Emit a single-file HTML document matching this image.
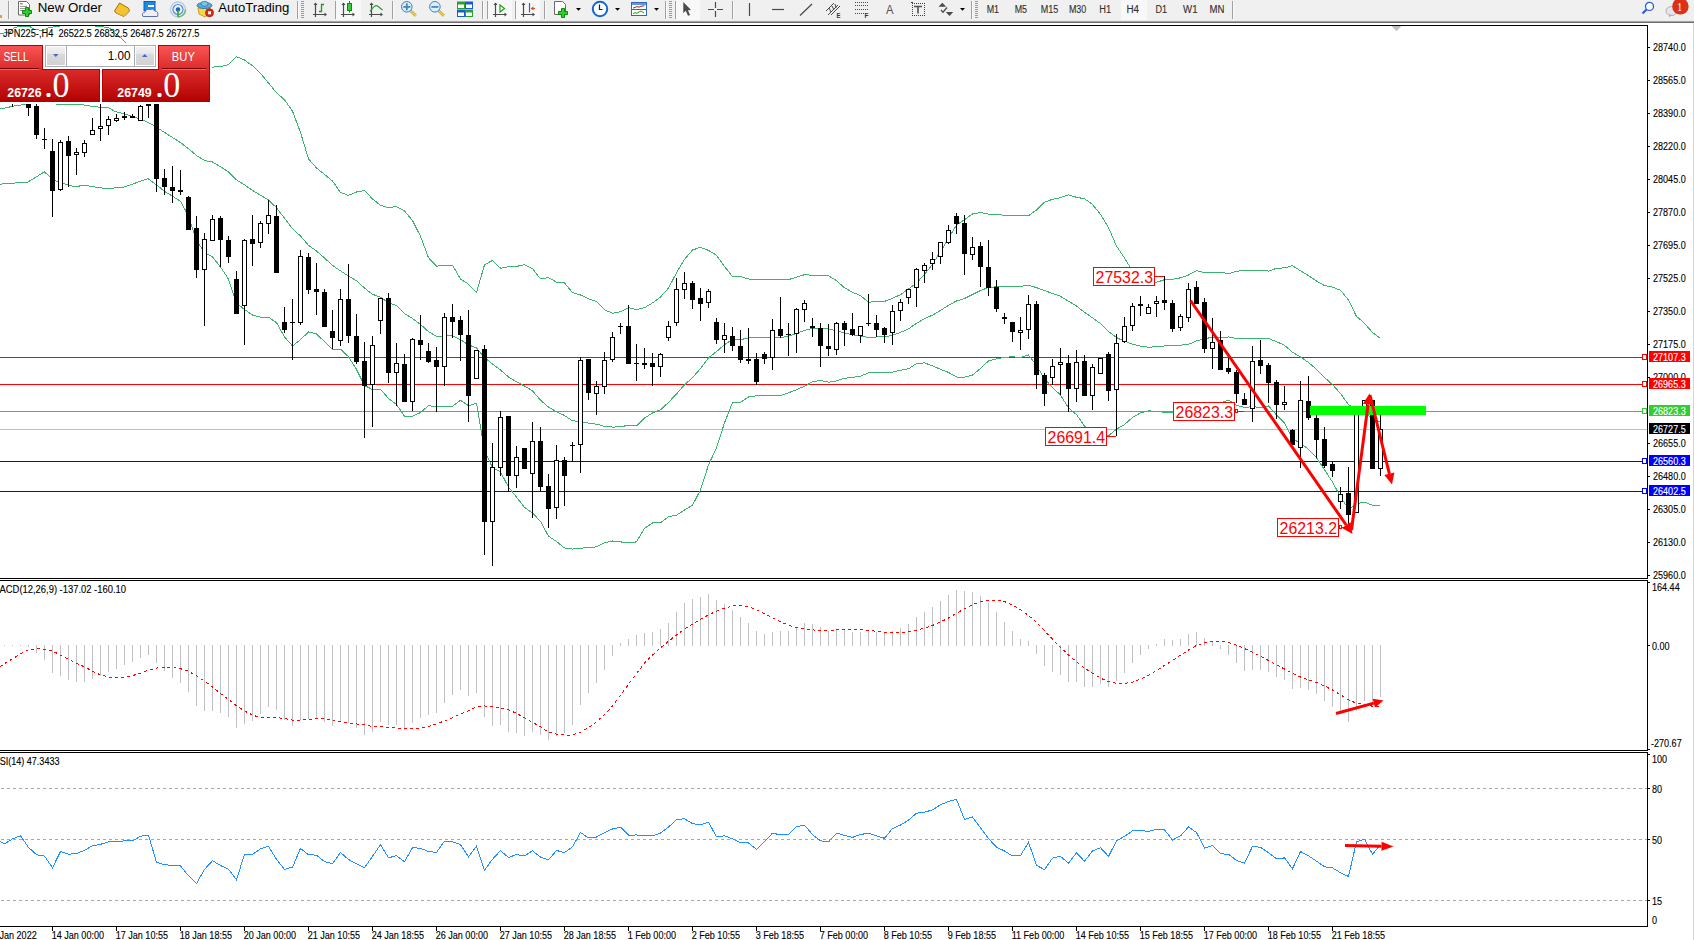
<!DOCTYPE html><html><head><meta charset="utf-8"><style>html,body{margin:0;padding:0;background:#fff;overflow:hidden}svg{display:block;font-family:"Liberation Sans",sans-serif}</style></head><body><svg width="1694" height="940" viewBox="0 0 1694 940">
<rect x="0" y="0" width="1694" height="940" fill="#fff"/>
<defs><clipPath id="cm"><rect x="0" y="26" width="1647" height="552"/></clipPath><clipPath id="cmacd"><rect x="0" y="581" width="1647" height="169"/></clipPath><clipPath id="crsi"><rect x="0" y="753" width="1647" height="173"/></clipPath></defs>
<g clip-path="url(#cm)">
<g shape-rendering="crispEdges">
<rect x="0" y="429" width="1647" height="1" fill="#c0c0c0"/>
<rect x="0" y="357" width="1642" height="1" fill="#ff0000"/>
<rect x="0" y="384" width="1642" height="1" fill="#ff0000"/>
<rect x="0" y="411" width="1642" height="1" fill="#32cd32"/>
<rect x="0" y="461" width="1642" height="1" fill="#0000ff"/>
<rect x="0" y="491" width="1642" height="1" fill="#0000ff"/>
</g>
<polyline points="0.0,33.3 10.0,32.5 14.2,27.6 18.4,26.6 29.8,26.6 34.7,29.5 42.5,30.5 48.0,28.0 53.8,26.8 60.0,26.1 66.0,23.5 88.0,23.5 95.0,26.1 97.0,26.6 108.4,27.3 117.6,35.1 126.0,42.9 150.0,60.5 172.0,80.5 180.5,84.1 188.5,81.4 196.5,70.6 204.5,68.4 212.5,67.1 220.5,66.7 228.5,64.7 236.5,56.7 244.5,60.0 252.5,65.8 260.5,73.4 268.5,83.0 276.5,92.8 284.5,99.7 292.5,111.2 300.5,132.5 308.5,158.8 316.5,168.0 324.5,174.4 332.5,181.0 340.5,192.5 348.5,195.4 356.5,192.0 364.5,190.5 372.5,198.9 380.5,205.3 388.5,207.6 396.5,206.6 404.5,211.0 412.5,220.6 420.5,236.3 428.5,257.7 436.5,266.2 444.5,265.2 452.5,265.1 460.5,279.0 468.5,284.2 476.5,292.4 484.5,264.9 492.5,260.4 500.5,268.2 508.5,266.8 516.5,266.5 524.5,264.6 532.5,268.6 540.5,278.9 548.5,277.7 556.5,282.1 564.5,283.0 572.5,292.5 580.5,295.0 588.5,298.8 596.5,301.4 604.5,309.7 612.5,313.3 620.5,311.6 628.5,307.6 636.5,309.7 644.5,307.7 652.5,302.9 660.5,296.9 668.5,288.1 676.5,272.8 684.5,259.5 692.5,250.0 700.5,247.3 708.5,250.4 716.5,255.2 724.5,266.5 732.5,276.6 740.5,276.6 748.5,279.0 756.5,279.6 764.5,279.6 772.5,279.2 780.5,279.9 788.5,279.6 796.5,277.2 804.5,274.7 812.5,275.2 820.5,275.5 828.5,275.9 836.5,280.6 844.5,287.8 852.5,292.2 860.5,295.7 868.5,302.2 876.5,301.5 884.5,301.4 892.5,298.3 900.5,294.6 908.5,289.0 916.5,283.0 924.5,274.5 932.5,264.3 940.5,251.7 948.5,238.2 956.5,225.0 964.5,219.8 972.5,213.9 980.5,212.6 988.5,214.2 996.5,214.6 1004.5,215.2 1012.5,215.4 1020.5,215.2 1028.5,215.7 1036.5,209.9 1044.5,202.2 1052.5,199.3 1060.5,197.6 1068.5,194.8 1076.5,197.3 1084.5,198.7 1092.5,204.5 1100.5,214.4 1108.5,227.5 1116.5,246.1 1124.5,257.9 1132.5,271.0 1140.5,279.6 1148.5,283.5 1156.5,282.3 1164.5,279.7 1172.5,279.4 1180.5,277.8 1188.5,275.0 1196.5,270.7 1204.5,272.6 1212.5,272.6 1220.5,272.3 1228.5,273.7 1236.5,271.4 1244.5,270.3 1252.5,270.5 1260.5,270.3 1268.5,271.1 1276.5,268.3 1284.5,267.9 1292.5,265.7 1300.5,270.8 1308.5,275.6 1316.5,281.1 1324.5,285.5 1332.5,287.1 1340.5,290.2 1348.5,300.2 1356.5,316.4 1364.5,323.2 1372.5,332.6 1380.5,338.5" fill="none" stroke="#3cb371" stroke-width="1" shape-rendering="crispEdges" />
<polyline points="0.0,109.1 16.3,105.5 25.3,104.5 30.0,102.5 52.0,102.5 57.9,104.5 81.4,104.5 94.0,106.7 108.6,107.8 115.8,111.8 126.6,114.5 137.5,118.1 144.7,120.8 152.0,124.5 159.2,129.0 171.9,137.1 180.5,142.6 188.5,148.7 196.5,155.5 204.5,160.5 212.5,162.0 220.5,166.8 228.5,171.9 236.5,179.9 244.5,184.8 252.5,190.4 260.5,195.2 268.5,200.0 276.5,207.7 284.5,218.3 292.5,228.6 300.5,236.1 308.5,245.3 316.5,251.0 324.5,258.0 332.5,265.4 340.5,270.8 348.5,276.1 356.5,280.7 364.5,288.0 372.5,294.3 380.5,297.2 388.5,303.0 396.5,305.6 404.5,313.6 412.5,318.4 420.5,324.4 428.5,331.7 436.5,336.4 444.5,335.8 452.5,335.7 460.5,339.6 468.5,344.9 476.5,347.9 484.5,357.6 492.5,364.1 500.5,370.0 508.5,377.0 516.5,381.8 524.5,386.0 532.5,390.8 540.5,400.2 548.5,407.0 556.5,411.8 564.5,415.5 572.5,420.8 580.5,421.6 588.5,423.1 596.5,424.2 604.5,426.3 612.5,427.1 620.5,426.8 628.5,425.2 636.5,425.8 644.5,418.0 652.5,413.0 660.5,409.8 668.5,402.4 676.5,394.0 684.5,384.8 692.5,377.6 700.5,368.5 708.5,357.7 716.5,351.6 724.5,344.6 732.5,339.6 740.5,339.6 748.5,338.0 756.5,337.7 764.5,337.6 772.5,337.2 780.5,337.7 788.5,336.2 796.5,333.5 804.5,330.4 812.5,328.5 820.5,328.0 828.5,329.1 836.5,330.8 844.5,333.0 852.5,334.8 860.5,335.9 868.5,337.5 876.5,337.0 884.5,336.9 892.5,335.2 900.5,332.4 908.5,328.9 916.5,323.3 924.5,318.7 932.5,315.1 940.5,310.5 948.5,305.3 956.5,301.0 964.5,298.5 972.5,294.5 980.5,290.5 988.5,287.5 996.5,286.8 1004.5,286.2 1012.5,286.1 1020.5,286.3 1028.5,285.3 1036.5,287.6 1044.5,290.6 1052.5,293.4 1060.5,296.3 1068.5,301.3 1076.5,305.9 1084.5,312.4 1092.5,317.8 1100.5,323.6 1108.5,331.6 1116.5,337.6 1124.5,341.2 1132.5,344.2 1140.5,346.2 1148.5,347.2 1156.5,346.8 1164.5,346.0 1172.5,345.9 1180.5,345.2 1188.5,344.4 1196.5,340.9 1204.5,338.6 1212.5,337.4 1220.5,337.8 1228.5,336.9 1236.5,338.4 1244.5,338.9 1252.5,338.6 1260.5,338.9 1268.5,338.5 1276.5,341.6 1284.5,345.3 1292.5,352.2 1300.5,357.0 1308.5,362.5 1316.5,369.4 1324.5,377.5 1332.5,384.6 1340.5,393.5 1348.5,404.7 1356.5,410.1 1364.5,412.6 1372.5,418.9 1380.5,422.0" fill="none" stroke="#3cb371" stroke-width="1" shape-rendering="crispEdges" />
<polyline points="0.0,184.2 28.0,182.0 44.3,171.9 54.3,180.5 68.8,185.1 76.0,186.9 83.2,185.1 94.0,186.9 106.7,188.7 124.8,186.9 137.5,182.3 148.0,178.7 155.6,184.2 164.6,191.4 171.9,195.9 180.5,201.2 188.5,216.1 196.5,240.4 204.5,252.6 212.5,256.9 220.5,267.0 228.5,279.1 236.5,303.1 244.5,309.5 252.5,315.0 260.5,317.1 268.5,317.1 276.5,322.7 284.5,336.9 292.5,346.0 300.5,339.7 308.5,331.9 316.5,334.0 324.5,341.6 332.5,349.7 340.5,349.1 348.5,356.7 356.5,369.4 364.5,385.5 372.5,389.6 380.5,389.2 388.5,398.5 396.5,404.5 404.5,416.2 412.5,416.2 420.5,412.6 428.5,405.7 436.5,406.6 444.5,406.4 452.5,406.4 460.5,400.3 468.5,405.6 476.5,403.4 484.5,450.4 492.5,467.8 500.5,471.8 508.5,487.2 516.5,497.1 524.5,507.4 532.5,513.0 540.5,521.4 548.5,536.2 556.5,541.5 564.5,548.0 572.5,549.1 580.5,548.2 588.5,547.5 596.5,546.9 604.5,542.9 612.5,541.0 620.5,541.9 628.5,542.8 636.5,541.9 644.5,528.3 652.5,523.0 660.5,522.7 668.5,516.7 676.5,515.2 684.5,510.0 692.5,505.3 700.5,489.8 708.5,464.9 716.5,448.0 724.5,422.8 732.5,402.6 740.5,402.5 748.5,397.0 756.5,395.8 764.5,395.5 772.5,395.2 780.5,395.5 788.5,392.8 796.5,389.7 804.5,386.2 812.5,381.8 820.5,380.5 828.5,382.2 836.5,380.9 844.5,378.3 852.5,377.3 860.5,376.2 868.5,372.9 876.5,372.5 884.5,372.4 892.5,372.2 900.5,370.2 908.5,368.8 916.5,363.6 924.5,362.9 932.5,365.9 940.5,369.3 948.5,372.4 956.5,377.0 964.5,377.2 972.5,375.1 980.5,368.5 988.5,360.9 996.5,358.9 1004.5,357.3 1012.5,356.8 1020.5,357.4 1028.5,355.0 1036.5,365.4 1044.5,379.0 1052.5,387.4 1060.5,395.1 1068.5,407.8 1076.5,414.6 1084.5,426.1 1092.5,431.2 1100.5,432.8 1108.5,435.7 1116.5,429.1 1124.5,424.6 1132.5,417.5 1140.5,412.8 1148.5,410.8 1156.5,411.4 1164.5,412.3 1172.5,412.3 1180.5,412.5 1188.5,413.9 1196.5,411.0 1204.5,404.7 1212.5,402.2 1220.5,403.2 1228.5,400.1 1236.5,405.4 1244.5,407.4 1252.5,406.7 1260.5,407.5 1268.5,406.0 1276.5,414.9 1284.5,422.8 1292.5,438.8 1300.5,443.2 1308.5,449.3 1316.5,457.6 1324.5,469.6 1332.5,482.1 1340.5,496.8 1348.5,509.2 1356.5,503.7 1364.5,502.1 1372.5,505.3 1380.5,505.4" fill="none" stroke="#3cb371" stroke-width="1" shape-rendering="crispEdges" />
<g shape-rendering="crispEdges">
<rect x="12" y="104" width="1" height="3" fill="#000"/>
<rect x="28" y="104" width="1" height="12" fill="#000"/>
<rect x="26" y="104" width="5" height="4" fill="#000"/>
<rect x="36" y="104" width="1" height="35" fill="#000"/>
<rect x="34" y="106" width="5" height="29" fill="#000"/>
<rect x="44" y="128" width="1" height="21" fill="#000"/>
<rect x="42" y="139" width="5" height="1" fill="#000"/>
<rect x="52" y="139" width="1" height="78" fill="#000"/>
<rect x="50" y="151" width="5" height="40" fill="#000"/>
<rect x="60" y="140" width="1" height="51" fill="#000"/>
<rect x="58" y="142" width="5" height="48" fill="#000"/>
<rect x="59" y="143" width="3" height="46" fill="#fff"/>
<rect x="68" y="136" width="1" height="51" fill="#000"/>
<rect x="66" y="141" width="5" height="15" fill="#000"/>
<rect x="76" y="148" width="1" height="27" fill="#000"/>
<rect x="74" y="152" width="5" height="3" fill="#000"/>
<rect x="75" y="153" width="3" height="1" fill="#fff"/>
<rect x="84" y="140" width="1" height="17" fill="#000"/>
<rect x="82" y="143" width="5" height="10" fill="#000"/>
<rect x="83" y="144" width="3" height="8" fill="#fff"/>
<rect x="92" y="118" width="1" height="17" fill="#000"/>
<rect x="90" y="130" width="5" height="5" fill="#000"/>
<rect x="91" y="131" width="3" height="3" fill="#fff"/>
<rect x="100" y="104" width="1" height="37" fill="#000"/>
<rect x="98" y="126" width="5" height="3" fill="#000"/>
<rect x="99" y="127" width="3" height="1" fill="#fff"/>
<rect x="108" y="116" width="1" height="19" fill="#000"/>
<rect x="106" y="119" width="5" height="7" fill="#000"/>
<rect x="107" y="120" width="3" height="5" fill="#fff"/>
<rect x="116" y="114" width="1" height="8" fill="#000"/>
<rect x="114" y="118" width="5" height="3" fill="#000"/>
<rect x="115" y="119" width="3" height="1" fill="#fff"/>
<rect x="124" y="112" width="1" height="8" fill="#000"/>
<rect x="122" y="116" width="5" height="2" fill="#000"/>
<rect x="132" y="114" width="1" height="4" fill="#000"/>
<rect x="130" y="116" width="5" height="2" fill="#000"/>
<rect x="140" y="105" width="1" height="16" fill="#000"/>
<rect x="138" y="106" width="5" height="15" fill="#000"/>
<rect x="139" y="107" width="3" height="13" fill="#fff"/>
<rect x="148" y="104" width="1" height="14" fill="#000"/>
<rect x="146" y="104" width="5" height="2" fill="#000"/>
<rect x="156" y="104" width="1" height="88" fill="#000"/>
<rect x="154" y="104" width="5" height="75" fill="#000"/>
<rect x="164" y="169" width="1" height="26" fill="#000"/>
<rect x="162" y="178" width="5" height="9" fill="#000"/>
<rect x="172" y="166" width="1" height="37" fill="#000"/>
<rect x="170" y="187" width="5" height="4" fill="#000"/>
<rect x="180" y="170" width="1" height="25" fill="#000"/>
<rect x="178" y="190" width="5" height="2" fill="#000"/>
<rect x="188" y="196" width="1" height="34" fill="#000"/>
<rect x="186" y="197" width="5" height="33" fill="#000"/>
<rect x="196" y="216" width="1" height="62" fill="#000"/>
<rect x="194" y="228" width="5" height="42" fill="#000"/>
<rect x="204" y="233" width="1" height="93" fill="#000"/>
<rect x="202" y="239" width="5" height="31" fill="#000"/>
<rect x="203" y="240" width="3" height="29" fill="#fff"/>
<rect x="212" y="215" width="1" height="26" fill="#000"/>
<rect x="210" y="219" width="5" height="22" fill="#000"/>
<rect x="211" y="220" width="3" height="20" fill="#fff"/>
<rect x="220" y="216" width="1" height="51" fill="#000"/>
<rect x="218" y="218" width="5" height="22" fill="#000"/>
<rect x="228" y="236" width="1" height="27" fill="#000"/>
<rect x="226" y="240" width="5" height="17" fill="#000"/>
<rect x="236" y="271" width="1" height="43" fill="#000"/>
<rect x="234" y="279" width="5" height="35" fill="#000"/>
<rect x="244" y="239" width="1" height="106" fill="#000"/>
<rect x="242" y="240" width="5" height="66" fill="#000"/>
<rect x="243" y="241" width="3" height="64" fill="#fff"/>
<rect x="252" y="215" width="1" height="51" fill="#000"/>
<rect x="250" y="239" width="5" height="5" fill="#000"/>
<rect x="260" y="221" width="1" height="27" fill="#000"/>
<rect x="258" y="223" width="5" height="20" fill="#000"/>
<rect x="259" y="224" width="3" height="18" fill="#fff"/>
<rect x="268" y="200" width="1" height="34" fill="#000"/>
<rect x="266" y="215" width="5" height="9" fill="#000"/>
<rect x="267" y="216" width="3" height="7" fill="#fff"/>
<rect x="276" y="205" width="1" height="68" fill="#000"/>
<rect x="274" y="216" width="5" height="57" fill="#000"/>
<rect x="284" y="307" width="1" height="26" fill="#000"/>
<rect x="282" y="322" width="5" height="8" fill="#000"/>
<rect x="292" y="299" width="1" height="61" fill="#000"/>
<rect x="290" y="322" width="5" height="1" fill="#000"/>
<rect x="300" y="250" width="1" height="75" fill="#000"/>
<rect x="298" y="256" width="5" height="67" fill="#000"/>
<rect x="299" y="257" width="3" height="65" fill="#fff"/>
<rect x="308" y="253" width="1" height="41" fill="#000"/>
<rect x="306" y="257" width="5" height="33" fill="#000"/>
<rect x="316" y="263" width="1" height="52" fill="#000"/>
<rect x="314" y="289" width="5" height="3" fill="#000"/>
<rect x="324" y="289" width="1" height="38" fill="#000"/>
<rect x="322" y="292" width="5" height="35" fill="#000"/>
<rect x="332" y="310" width="1" height="39" fill="#000"/>
<rect x="330" y="331" width="5" height="7" fill="#000"/>
<rect x="340" y="289" width="1" height="57" fill="#000"/>
<rect x="338" y="299" width="5" height="42" fill="#000"/>
<rect x="339" y="300" width="3" height="40" fill="#fff"/>
<rect x="348" y="264" width="1" height="79" fill="#000"/>
<rect x="346" y="299" width="5" height="37" fill="#000"/>
<rect x="356" y="314" width="1" height="50" fill="#000"/>
<rect x="354" y="336" width="5" height="26" fill="#000"/>
<rect x="364" y="342" width="1" height="96" fill="#000"/>
<rect x="362" y="361" width="5" height="25" fill="#000"/>
<rect x="372" y="336" width="1" height="91" fill="#000"/>
<rect x="370" y="345" width="5" height="40" fill="#000"/>
<rect x="371" y="346" width="3" height="38" fill="#fff"/>
<rect x="380" y="298" width="1" height="36" fill="#000"/>
<rect x="378" y="298" width="5" height="23" fill="#000"/>
<rect x="379" y="299" width="3" height="21" fill="#fff"/>
<rect x="388" y="293" width="1" height="90" fill="#000"/>
<rect x="386" y="298" width="5" height="75" fill="#000"/>
<rect x="396" y="343" width="1" height="63" fill="#000"/>
<rect x="394" y="363" width="5" height="10" fill="#000"/>
<rect x="395" y="364" width="3" height="8" fill="#fff"/>
<rect x="404" y="354" width="1" height="48" fill="#000"/>
<rect x="402" y="364" width="5" height="38" fill="#000"/>
<rect x="412" y="338" width="1" height="73" fill="#000"/>
<rect x="410" y="339" width="5" height="63" fill="#000"/>
<rect x="411" y="340" width="3" height="61" fill="#fff"/>
<rect x="420" y="315" width="1" height="45" fill="#000"/>
<rect x="418" y="340" width="5" height="5" fill="#000"/>
<rect x="428" y="343" width="1" height="20" fill="#000"/>
<rect x="426" y="351" width="5" height="11" fill="#000"/>
<rect x="436" y="347" width="1" height="65" fill="#000"/>
<rect x="434" y="360" width="5" height="7" fill="#000"/>
<rect x="444" y="313" width="1" height="73" fill="#000"/>
<rect x="442" y="317" width="5" height="50" fill="#000"/>
<rect x="443" y="318" width="3" height="48" fill="#fff"/>
<rect x="452" y="304" width="1" height="34" fill="#000"/>
<rect x="450" y="317" width="5" height="5" fill="#000"/>
<rect x="460" y="316" width="1" height="45" fill="#000"/>
<rect x="458" y="320" width="5" height="15" fill="#000"/>
<rect x="468" y="310" width="1" height="112" fill="#000"/>
<rect x="466" y="335" width="5" height="61" fill="#000"/>
<rect x="476" y="350" width="1" height="29" fill="#000"/>
<rect x="474" y="350" width="5" height="29" fill="#000"/>
<rect x="475" y="351" width="3" height="27" fill="#fff"/>
<rect x="484" y="345" width="1" height="210" fill="#000"/>
<rect x="482" y="349" width="5" height="173" fill="#000"/>
<rect x="492" y="443" width="1" height="123" fill="#000"/>
<rect x="490" y="467" width="5" height="55" fill="#000"/>
<rect x="491" y="468" width="3" height="53" fill="#fff"/>
<rect x="500" y="411" width="1" height="65" fill="#000"/>
<rect x="498" y="417" width="5" height="51" fill="#000"/>
<rect x="499" y="418" width="3" height="49" fill="#fff"/>
<rect x="508" y="416" width="1" height="76" fill="#000"/>
<rect x="506" y="416" width="5" height="60" fill="#000"/>
<rect x="516" y="446" width="1" height="42" fill="#000"/>
<rect x="514" y="457" width="5" height="19" fill="#000"/>
<rect x="515" y="458" width="3" height="17" fill="#fff"/>
<rect x="524" y="448" width="1" height="21" fill="#000"/>
<rect x="522" y="448" width="5" height="21" fill="#000"/>
<rect x="532" y="422" width="1" height="96" fill="#000"/>
<rect x="530" y="441" width="5" height="33" fill="#000"/>
<rect x="531" y="442" width="3" height="31" fill="#fff"/>
<rect x="540" y="427" width="1" height="64" fill="#000"/>
<rect x="538" y="441" width="5" height="46" fill="#000"/>
<rect x="548" y="474" width="1" height="54" fill="#000"/>
<rect x="546" y="486" width="5" height="23" fill="#000"/>
<rect x="556" y="445" width="1" height="74" fill="#000"/>
<rect x="554" y="460" width="5" height="48" fill="#000"/>
<rect x="555" y="461" width="3" height="46" fill="#fff"/>
<rect x="564" y="457" width="1" height="49" fill="#000"/>
<rect x="562" y="460" width="5" height="16" fill="#000"/>
<rect x="572" y="442" width="1" height="20" fill="#000"/>
<rect x="570" y="445" width="5" height="1" fill="#000"/>
<rect x="580" y="357" width="1" height="116" fill="#000"/>
<rect x="578" y="360" width="5" height="85" fill="#000"/>
<rect x="579" y="361" width="3" height="83" fill="#fff"/>
<rect x="588" y="359" width="1" height="41" fill="#000"/>
<rect x="586" y="359" width="5" height="34" fill="#000"/>
<rect x="596" y="381" width="1" height="34" fill="#000"/>
<rect x="594" y="386" width="5" height="8" fill="#000"/>
<rect x="595" y="387" width="3" height="6" fill="#fff"/>
<rect x="604" y="352" width="1" height="42" fill="#000"/>
<rect x="602" y="360" width="5" height="27" fill="#000"/>
<rect x="603" y="361" width="3" height="25" fill="#fff"/>
<rect x="612" y="332" width="1" height="30" fill="#000"/>
<rect x="610" y="337" width="5" height="23" fill="#000"/>
<rect x="611" y="338" width="3" height="21" fill="#fff"/>
<rect x="620" y="323" width="1" height="11" fill="#000"/>
<rect x="618" y="326" width="5" height="1" fill="#000"/>
<rect x="628" y="305" width="1" height="59" fill="#000"/>
<rect x="626" y="326" width="5" height="38" fill="#000"/>
<rect x="636" y="344" width="1" height="37" fill="#000"/>
<rect x="634" y="363" width="5" height="1" fill="#000"/>
<rect x="644" y="348" width="1" height="21" fill="#000"/>
<rect x="642" y="363" width="5" height="2" fill="#000"/>
<rect x="652" y="353" width="1" height="33" fill="#000"/>
<rect x="650" y="363" width="5" height="4" fill="#000"/>
<rect x="660" y="353" width="1" height="24" fill="#000"/>
<rect x="658" y="354" width="5" height="13" fill="#000"/>
<rect x="659" y="355" width="3" height="11" fill="#fff"/>
<rect x="668" y="321" width="1" height="20" fill="#000"/>
<rect x="666" y="326" width="5" height="12" fill="#000"/>
<rect x="667" y="327" width="3" height="10" fill="#fff"/>
<rect x="676" y="278" width="1" height="48" fill="#000"/>
<rect x="674" y="289" width="5" height="34" fill="#000"/>
<rect x="675" y="290" width="3" height="32" fill="#fff"/>
<rect x="684" y="272" width="1" height="27" fill="#000"/>
<rect x="682" y="283" width="5" height="7" fill="#000"/>
<rect x="683" y="284" width="3" height="5" fill="#fff"/>
<rect x="692" y="281" width="1" height="28" fill="#000"/>
<rect x="690" y="283" width="5" height="17" fill="#000"/>
<rect x="700" y="288" width="1" height="33" fill="#000"/>
<rect x="698" y="298" width="5" height="6" fill="#000"/>
<rect x="708" y="289" width="1" height="19" fill="#000"/>
<rect x="706" y="291" width="5" height="12" fill="#000"/>
<rect x="707" y="292" width="3" height="10" fill="#fff"/>
<rect x="716" y="318" width="1" height="26" fill="#000"/>
<rect x="714" y="322" width="5" height="18" fill="#000"/>
<rect x="724" y="323" width="1" height="30" fill="#000"/>
<rect x="722" y="335" width="5" height="5" fill="#000"/>
<rect x="723" y="336" width="3" height="3" fill="#fff"/>
<rect x="732" y="327" width="1" height="24" fill="#000"/>
<rect x="730" y="336" width="5" height="10" fill="#000"/>
<rect x="740" y="330" width="1" height="33" fill="#000"/>
<rect x="738" y="346" width="5" height="14" fill="#000"/>
<rect x="748" y="328" width="1" height="36" fill="#000"/>
<rect x="746" y="359" width="5" height="2" fill="#000"/>
<rect x="756" y="353" width="1" height="32" fill="#000"/>
<rect x="754" y="359" width="5" height="23" fill="#000"/>
<rect x="764" y="352" width="1" height="12" fill="#000"/>
<rect x="762" y="354" width="5" height="5" fill="#000"/>
<rect x="772" y="319" width="1" height="51" fill="#000"/>
<rect x="770" y="330" width="5" height="28" fill="#000"/>
<rect x="771" y="331" width="3" height="26" fill="#fff"/>
<rect x="780" y="297" width="1" height="41" fill="#000"/>
<rect x="778" y="329" width="5" height="7" fill="#000"/>
<rect x="788" y="323" width="1" height="33" fill="#000"/>
<rect x="786" y="334" width="5" height="1" fill="#000"/>
<rect x="796" y="308" width="1" height="45" fill="#000"/>
<rect x="794" y="309" width="5" height="25" fill="#000"/>
<rect x="795" y="310" width="3" height="23" fill="#fff"/>
<rect x="804" y="300" width="1" height="22" fill="#000"/>
<rect x="802" y="303" width="5" height="7" fill="#000"/>
<rect x="803" y="304" width="3" height="5" fill="#fff"/>
<rect x="812" y="318" width="1" height="19" fill="#000"/>
<rect x="810" y="326" width="5" height="2" fill="#000"/>
<rect x="820" y="323" width="1" height="44" fill="#000"/>
<rect x="818" y="328" width="5" height="18" fill="#000"/>
<rect x="828" y="324" width="1" height="32" fill="#000"/>
<rect x="826" y="346" width="5" height="3" fill="#000"/>
<rect x="836" y="322" width="1" height="33" fill="#000"/>
<rect x="834" y="323" width="5" height="27" fill="#000"/>
<rect x="835" y="324" width="3" height="25" fill="#fff"/>
<rect x="844" y="321" width="1" height="25" fill="#000"/>
<rect x="842" y="323" width="5" height="7" fill="#000"/>
<rect x="852" y="313" width="1" height="23" fill="#000"/>
<rect x="850" y="329" width="5" height="6" fill="#000"/>
<rect x="860" y="326" width="1" height="17" fill="#000"/>
<rect x="858" y="326" width="5" height="10" fill="#000"/>
<rect x="859" y="327" width="3" height="8" fill="#fff"/>
<rect x="868" y="294" width="1" height="32" fill="#000"/>
<rect x="866" y="323" width="5" height="1" fill="#000"/>
<rect x="876" y="315" width="1" height="22" fill="#000"/>
<rect x="874" y="323" width="5" height="7" fill="#000"/>
<rect x="884" y="327" width="1" height="16" fill="#000"/>
<rect x="882" y="328" width="5" height="7" fill="#000"/>
<rect x="892" y="305" width="1" height="40" fill="#000"/>
<rect x="890" y="311" width="5" height="22" fill="#000"/>
<rect x="891" y="312" width="3" height="20" fill="#fff"/>
<rect x="900" y="299" width="1" height="22" fill="#000"/>
<rect x="898" y="302" width="5" height="9" fill="#000"/>
<rect x="899" y="303" width="3" height="7" fill="#fff"/>
<rect x="908" y="289" width="1" height="15" fill="#000"/>
<rect x="906" y="289" width="5" height="9" fill="#000"/>
<rect x="907" y="290" width="3" height="7" fill="#fff"/>
<rect x="916" y="268" width="1" height="39" fill="#000"/>
<rect x="914" y="269" width="5" height="19" fill="#000"/>
<rect x="915" y="270" width="3" height="17" fill="#fff"/>
<rect x="924" y="263" width="1" height="20" fill="#000"/>
<rect x="922" y="265" width="5" height="6" fill="#000"/>
<rect x="923" y="266" width="3" height="4" fill="#fff"/>
<rect x="932" y="252" width="1" height="18" fill="#000"/>
<rect x="930" y="259" width="5" height="5" fill="#000"/>
<rect x="931" y="260" width="3" height="3" fill="#fff"/>
<rect x="940" y="242" width="1" height="22" fill="#000"/>
<rect x="938" y="242" width="5" height="15" fill="#000"/>
<rect x="939" y="243" width="3" height="13" fill="#fff"/>
<rect x="948" y="225" width="1" height="19" fill="#000"/>
<rect x="946" y="230" width="5" height="13" fill="#000"/>
<rect x="947" y="231" width="3" height="11" fill="#fff"/>
<rect x="956" y="213" width="1" height="21" fill="#000"/>
<rect x="954" y="216" width="5" height="8" fill="#000"/>
<rect x="964" y="215" width="1" height="60" fill="#000"/>
<rect x="962" y="223" width="5" height="31" fill="#000"/>
<rect x="972" y="237" width="1" height="23" fill="#000"/>
<rect x="970" y="247" width="5" height="8" fill="#000"/>
<rect x="971" y="248" width="3" height="6" fill="#fff"/>
<rect x="980" y="242" width="1" height="45" fill="#000"/>
<rect x="978" y="246" width="5" height="21" fill="#000"/>
<rect x="988" y="240" width="1" height="56" fill="#000"/>
<rect x="986" y="267" width="5" height="21" fill="#000"/>
<rect x="996" y="280" width="1" height="32" fill="#000"/>
<rect x="994" y="287" width="5" height="22" fill="#000"/>
<rect x="1004" y="313" width="1" height="11" fill="#000"/>
<rect x="1002" y="317" width="5" height="2" fill="#000"/>
<rect x="1012" y="322" width="1" height="20" fill="#000"/>
<rect x="1010" y="322" width="5" height="10" fill="#000"/>
<rect x="1020" y="317" width="1" height="33" fill="#000"/>
<rect x="1018" y="330" width="5" height="3" fill="#000"/>
<rect x="1019" y="331" width="3" height="1" fill="#fff"/>
<rect x="1028" y="295" width="1" height="44" fill="#000"/>
<rect x="1026" y="304" width="5" height="26" fill="#000"/>
<rect x="1027" y="305" width="3" height="24" fill="#fff"/>
<rect x="1036" y="301" width="1" height="88" fill="#000"/>
<rect x="1034" y="304" width="5" height="71" fill="#000"/>
<rect x="1044" y="373" width="1" height="33" fill="#000"/>
<rect x="1042" y="375" width="5" height="19" fill="#000"/>
<rect x="1052" y="359" width="1" height="26" fill="#000"/>
<rect x="1050" y="366" width="5" height="12" fill="#000"/>
<rect x="1051" y="367" width="3" height="10" fill="#fff"/>
<rect x="1060" y="348" width="1" height="47" fill="#000"/>
<rect x="1058" y="362" width="5" height="3" fill="#000"/>
<rect x="1059" y="363" width="3" height="1" fill="#fff"/>
<rect x="1068" y="355" width="1" height="57" fill="#000"/>
<rect x="1066" y="363" width="5" height="26" fill="#000"/>
<rect x="1076" y="350" width="1" height="52" fill="#000"/>
<rect x="1074" y="362" width="5" height="27" fill="#000"/>
<rect x="1075" y="363" width="3" height="25" fill="#fff"/>
<rect x="1084" y="355" width="1" height="41" fill="#000"/>
<rect x="1082" y="361" width="5" height="35" fill="#000"/>
<rect x="1092" y="364" width="1" height="46" fill="#000"/>
<rect x="1090" y="367" width="5" height="29" fill="#000"/>
<rect x="1091" y="368" width="3" height="27" fill="#fff"/>
<rect x="1100" y="358" width="1" height="16" fill="#000"/>
<rect x="1098" y="358" width="5" height="16" fill="#000"/>
<rect x="1099" y="359" width="3" height="14" fill="#fff"/>
<rect x="1108" y="352" width="1" height="49" fill="#000"/>
<rect x="1106" y="354" width="5" height="37" fill="#000"/>
<rect x="1116" y="334" width="1" height="102" fill="#000"/>
<rect x="1114" y="343" width="5" height="47" fill="#000"/>
<rect x="1115" y="344" width="3" height="45" fill="#fff"/>
<rect x="1124" y="317" width="1" height="26" fill="#000"/>
<rect x="1122" y="326" width="5" height="16" fill="#000"/>
<rect x="1123" y="327" width="3" height="14" fill="#fff"/>
<rect x="1132" y="303" width="1" height="28" fill="#000"/>
<rect x="1130" y="306" width="5" height="20" fill="#000"/>
<rect x="1131" y="307" width="3" height="18" fill="#fff"/>
<rect x="1140" y="296" width="1" height="20" fill="#000"/>
<rect x="1138" y="304" width="5" height="2" fill="#000"/>
<rect x="1148" y="304" width="1" height="10" fill="#000"/>
<rect x="1146" y="307" width="5" height="7" fill="#000"/>
<rect x="1147" y="308" width="3" height="5" fill="#fff"/>
<rect x="1156" y="296" width="1" height="21" fill="#000"/>
<rect x="1154" y="301" width="5" height="3" fill="#000"/>
<rect x="1155" y="302" width="3" height="1" fill="#fff"/>
<rect x="1164" y="276" width="1" height="34" fill="#000"/>
<rect x="1162" y="300" width="5" height="3" fill="#000"/>
<rect x="1172" y="300" width="1" height="32" fill="#000"/>
<rect x="1170" y="303" width="5" height="26" fill="#000"/>
<rect x="1180" y="314" width="1" height="17" fill="#000"/>
<rect x="1178" y="316" width="5" height="12" fill="#000"/>
<rect x="1179" y="317" width="3" height="10" fill="#fff"/>
<rect x="1188" y="283" width="1" height="39" fill="#000"/>
<rect x="1186" y="289" width="5" height="29" fill="#000"/>
<rect x="1187" y="290" width="3" height="27" fill="#fff"/>
<rect x="1196" y="281" width="1" height="23" fill="#000"/>
<rect x="1194" y="287" width="5" height="17" fill="#000"/>
<rect x="1204" y="298" width="1" height="55" fill="#000"/>
<rect x="1202" y="302" width="5" height="47" fill="#000"/>
<rect x="1212" y="318" width="1" height="51" fill="#000"/>
<rect x="1210" y="342" width="5" height="7" fill="#000"/>
<rect x="1211" y="343" width="3" height="5" fill="#fff"/>
<rect x="1220" y="331" width="1" height="39" fill="#000"/>
<rect x="1218" y="340" width="5" height="30" fill="#000"/>
<rect x="1228" y="356" width="1" height="18" fill="#000"/>
<rect x="1226" y="368" width="5" height="4" fill="#000"/>
<rect x="1236" y="370" width="1" height="33" fill="#000"/>
<rect x="1234" y="372" width="5" height="22" fill="#000"/>
<rect x="1244" y="393" width="1" height="12" fill="#000"/>
<rect x="1242" y="399" width="5" height="6" fill="#000"/>
<rect x="1252" y="346" width="1" height="76" fill="#000"/>
<rect x="1250" y="361" width="5" height="48" fill="#000"/>
<rect x="1251" y="362" width="3" height="46" fill="#fff"/>
<rect x="1260" y="340" width="1" height="34" fill="#000"/>
<rect x="1258" y="360" width="5" height="6" fill="#000"/>
<rect x="1268" y="363" width="1" height="40" fill="#000"/>
<rect x="1266" y="365" width="5" height="18" fill="#000"/>
<rect x="1276" y="380" width="1" height="39" fill="#000"/>
<rect x="1274" y="382" width="5" height="23" fill="#000"/>
<rect x="1284" y="386" width="1" height="24" fill="#000"/>
<rect x="1282" y="402" width="5" height="3" fill="#000"/>
<rect x="1283" y="403" width="3" height="1" fill="#fff"/>
<rect x="1292" y="429" width="1" height="16" fill="#000"/>
<rect x="1290" y="430" width="5" height="15" fill="#000"/>
<rect x="1300" y="381" width="1" height="87" fill="#000"/>
<rect x="1298" y="400" width="5" height="48" fill="#000"/>
<rect x="1299" y="401" width="3" height="46" fill="#fff"/>
<rect x="1308" y="376" width="1" height="44" fill="#000"/>
<rect x="1306" y="401" width="5" height="17" fill="#000"/>
<rect x="1316" y="415" width="1" height="43" fill="#000"/>
<rect x="1314" y="418" width="5" height="22" fill="#000"/>
<rect x="1324" y="427" width="1" height="41" fill="#000"/>
<rect x="1322" y="439" width="5" height="27" fill="#000"/>
<rect x="1332" y="462" width="1" height="15" fill="#000"/>
<rect x="1330" y="464" width="5" height="7" fill="#000"/>
<rect x="1340" y="487" width="1" height="22" fill="#000"/>
<rect x="1338" y="494" width="5" height="8" fill="#000"/>
<rect x="1339" y="495" width="3" height="6" fill="#fff"/>
<rect x="1348" y="467" width="1" height="60" fill="#000"/>
<rect x="1346" y="493" width="5" height="22" fill="#000"/>
<rect x="1356" y="406" width="1" height="107" fill="#000"/>
<rect x="1354" y="410" width="5" height="103" fill="#000"/>
<rect x="1355" y="411" width="3" height="101" fill="#fff"/>
<rect x="1364" y="400" width="1" height="11" fill="#000"/>
<rect x="1362" y="400" width="5" height="11" fill="#000"/>
<rect x="1363" y="401" width="3" height="9" fill="#fff"/>
<rect x="1372" y="400" width="1" height="69" fill="#000"/>
<rect x="1370" y="400" width="5" height="69" fill="#000"/>
<rect x="1380" y="410" width="1" height="66" fill="#000"/>
<rect x="1378" y="429" width="5" height="40" fill="#000"/>
<rect x="1379" y="430" width="3" height="38" fill="#fff"/>
</g>
</g>
<g clip-path="url(#cmacd)">
<g shape-rendering="crispEdges">
<rect x="4" y="645" width="1" height="1" fill="#c0c0c0"/>
<rect x="12" y="645" width="1" height="1" fill="#c0c0c0"/>
<rect x="20" y="645" width="1" height="1" fill="#c0c0c0"/>
<rect x="28" y="645" width="1" height="2" fill="#c0c0c0"/>
<rect x="28" y="645" width="1" height="1" fill="#c0c0c0"/>
<rect x="36" y="645" width="1" height="8" fill="#c0c0c0"/>
<rect x="44" y="645" width="1" height="15" fill="#c0c0c0"/>
<rect x="52" y="645" width="1" height="28" fill="#c0c0c0"/>
<rect x="60" y="645" width="1" height="31" fill="#c0c0c0"/>
<rect x="68" y="645" width="1" height="35" fill="#c0c0c0"/>
<rect x="76" y="645" width="1" height="37" fill="#c0c0c0"/>
<rect x="84" y="645" width="1" height="37" fill="#c0c0c0"/>
<rect x="92" y="645" width="1" height="34" fill="#c0c0c0"/>
<rect x="100" y="645" width="1" height="31" fill="#c0c0c0"/>
<rect x="108" y="645" width="1" height="27" fill="#c0c0c0"/>
<rect x="116" y="645" width="1" height="24" fill="#c0c0c0"/>
<rect x="124" y="645" width="1" height="20" fill="#c0c0c0"/>
<rect x="132" y="645" width="1" height="17" fill="#c0c0c0"/>
<rect x="140" y="645" width="1" height="13" fill="#c0c0c0"/>
<rect x="148" y="645" width="1" height="10" fill="#c0c0c0"/>
<rect x="156" y="645" width="1" height="18" fill="#c0c0c0"/>
<rect x="164" y="645" width="1" height="26" fill="#c0c0c0"/>
<rect x="172" y="645" width="1" height="33" fill="#c0c0c0"/>
<rect x="180" y="645" width="1" height="38" fill="#c0c0c0"/>
<rect x="188" y="645" width="1" height="47" fill="#c0c0c0"/>
<rect x="196" y="645" width="1" height="61" fill="#c0c0c0"/>
<rect x="204" y="645" width="1" height="66" fill="#c0c0c0"/>
<rect x="212" y="645" width="1" height="66" fill="#c0c0c0"/>
<rect x="220" y="645" width="1" height="68" fill="#c0c0c0"/>
<rect x="228" y="645" width="1" height="72" fill="#c0c0c0"/>
<rect x="236" y="645" width="1" height="83" fill="#c0c0c0"/>
<rect x="244" y="645" width="1" height="79" fill="#c0c0c0"/>
<rect x="252" y="645" width="1" height="76" fill="#c0c0c0"/>
<rect x="260" y="645" width="1" height="69" fill="#c0c0c0"/>
<rect x="268" y="645" width="1" height="62" fill="#c0c0c0"/>
<rect x="276" y="645" width="1" height="65" fill="#c0c0c0"/>
<rect x="284" y="645" width="1" height="75" fill="#c0c0c0"/>
<rect x="292" y="645" width="1" height="81" fill="#c0c0c0"/>
<rect x="300" y="645" width="1" height="75" fill="#c0c0c0"/>
<rect x="308" y="645" width="1" height="74" fill="#c0c0c0"/>
<rect x="316" y="645" width="1" height="73" fill="#c0c0c0"/>
<rect x="324" y="645" width="1" height="77" fill="#c0c0c0"/>
<rect x="332" y="645" width="1" height="81" fill="#c0c0c0"/>
<rect x="340" y="645" width="1" height="77" fill="#c0c0c0"/>
<rect x="348" y="645" width="1" height="78" fill="#c0c0c0"/>
<rect x="356" y="645" width="1" height="83" fill="#c0c0c0"/>
<rect x="364" y="645" width="1" height="90" fill="#c0c0c0"/>
<rect x="372" y="645" width="1" height="87" fill="#c0c0c0"/>
<rect x="380" y="645" width="1" height="77" fill="#c0c0c0"/>
<rect x="388" y="645" width="1" height="80" fill="#c0c0c0"/>
<rect x="396" y="645" width="1" height="80" fill="#c0c0c0"/>
<rect x="404" y="645" width="1" height="85" fill="#c0c0c0"/>
<rect x="412" y="645" width="1" height="78" fill="#c0c0c0"/>
<rect x="420" y="645" width="1" height="73" fill="#c0c0c0"/>
<rect x="428" y="645" width="1" height="70" fill="#c0c0c0"/>
<rect x="436" y="645" width="1" height="68" fill="#c0c0c0"/>
<rect x="444" y="645" width="1" height="58" fill="#c0c0c0"/>
<rect x="452" y="645" width="1" height="50" fill="#c0c0c0"/>
<rect x="460" y="645" width="1" height="45" fill="#c0c0c0"/>
<rect x="468" y="645" width="1" height="51" fill="#c0c0c0"/>
<rect x="476" y="645" width="1" height="48" fill="#c0c0c0"/>
<rect x="484" y="645" width="1" height="72" fill="#c0c0c0"/>
<rect x="492" y="645" width="1" height="81" fill="#c0c0c0"/>
<rect x="500" y="645" width="1" height="80" fill="#c0c0c0"/>
<rect x="508" y="645" width="1" height="87" fill="#c0c0c0"/>
<rect x="516" y="645" width="1" height="88" fill="#c0c0c0"/>
<rect x="524" y="645" width="1" height="91" fill="#c0c0c0"/>
<rect x="532" y="645" width="1" height="87" fill="#c0c0c0"/>
<rect x="540" y="645" width="1" height="90" fill="#c0c0c0"/>
<rect x="548" y="645" width="1" height="95" fill="#c0c0c0"/>
<rect x="556" y="645" width="1" height="91" fill="#c0c0c0"/>
<rect x="564" y="645" width="1" height="88" fill="#c0c0c0"/>
<rect x="572" y="645" width="1" height="80" fill="#c0c0c0"/>
<rect x="580" y="645" width="1" height="60" fill="#c0c0c0"/>
<rect x="588" y="645" width="1" height="48" fill="#c0c0c0"/>
<rect x="596" y="645" width="1" height="38" fill="#c0c0c0"/>
<rect x="604" y="645" width="1" height="25" fill="#c0c0c0"/>
<rect x="612" y="645" width="1" height="11" fill="#c0c0c0"/>
<rect x="620" y="643" width="1" height="3" fill="#c0c0c0"/>
<rect x="628" y="639" width="1" height="7" fill="#c0c0c0"/>
<rect x="636" y="635" width="1" height="11" fill="#c0c0c0"/>
<rect x="644" y="633" width="1" height="13" fill="#c0c0c0"/>
<rect x="652" y="632" width="1" height="14" fill="#c0c0c0"/>
<rect x="660" y="629" width="1" height="17" fill="#c0c0c0"/>
<rect x="668" y="623" width="1" height="23" fill="#c0c0c0"/>
<rect x="676" y="612" width="1" height="34" fill="#c0c0c0"/>
<rect x="684" y="603" width="1" height="43" fill="#c0c0c0"/>
<rect x="692" y="599" width="1" height="47" fill="#c0c0c0"/>
<rect x="700" y="597" width="1" height="49" fill="#c0c0c0"/>
<rect x="708" y="594" width="1" height="52" fill="#c0c0c0"/>
<rect x="716" y="600" width="1" height="46" fill="#c0c0c0"/>
<rect x="724" y="604" width="1" height="42" fill="#c0c0c0"/>
<rect x="732" y="610" width="1" height="36" fill="#c0c0c0"/>
<rect x="740" y="617" width="1" height="29" fill="#c0c0c0"/>
<rect x="748" y="623" width="1" height="23" fill="#c0c0c0"/>
<rect x="756" y="631" width="1" height="15" fill="#c0c0c0"/>
<rect x="764" y="634" width="1" height="12" fill="#c0c0c0"/>
<rect x="772" y="632" width="1" height="14" fill="#c0c0c0"/>
<rect x="780" y="631" width="1" height="15" fill="#c0c0c0"/>
<rect x="788" y="631" width="1" height="15" fill="#c0c0c0"/>
<rect x="796" y="627" width="1" height="19" fill="#c0c0c0"/>
<rect x="804" y="623" width="1" height="23" fill="#c0c0c0"/>
<rect x="812" y="624" width="1" height="22" fill="#c0c0c0"/>
<rect x="820" y="627" width="1" height="19" fill="#c0c0c0"/>
<rect x="828" y="631" width="1" height="15" fill="#c0c0c0"/>
<rect x="836" y="630" width="1" height="16" fill="#c0c0c0"/>
<rect x="844" y="630" width="1" height="16" fill="#c0c0c0"/>
<rect x="852" y="632" width="1" height="14" fill="#c0c0c0"/>
<rect x="860" y="632" width="1" height="14" fill="#c0c0c0"/>
<rect x="868" y="631" width="1" height="15" fill="#c0c0c0"/>
<rect x="876" y="632" width="1" height="14" fill="#c0c0c0"/>
<rect x="884" y="633" width="1" height="13" fill="#c0c0c0"/>
<rect x="892" y="631" width="1" height="15" fill="#c0c0c0"/>
<rect x="900" y="628" width="1" height="18" fill="#c0c0c0"/>
<rect x="908" y="624" width="1" height="22" fill="#c0c0c0"/>
<rect x="916" y="617" width="1" height="29" fill="#c0c0c0"/>
<rect x="924" y="612" width="1" height="34" fill="#c0c0c0"/>
<rect x="932" y="607" width="1" height="39" fill="#c0c0c0"/>
<rect x="940" y="601" width="1" height="45" fill="#c0c0c0"/>
<rect x="948" y="595" width="1" height="51" fill="#c0c0c0"/>
<rect x="956" y="590" width="1" height="56" fill="#c0c0c0"/>
<rect x="964" y="591" width="1" height="55" fill="#c0c0c0"/>
<rect x="972" y="592" width="1" height="54" fill="#c0c0c0"/>
<rect x="980" y="596" width="1" height="50" fill="#c0c0c0"/>
<rect x="988" y="603" width="1" height="43" fill="#c0c0c0"/>
<rect x="996" y="612" width="1" height="34" fill="#c0c0c0"/>
<rect x="1004" y="622" width="1" height="24" fill="#c0c0c0"/>
<rect x="1012" y="631" width="1" height="15" fill="#c0c0c0"/>
<rect x="1020" y="639" width="1" height="7" fill="#c0c0c0"/>
<rect x="1028" y="641" width="1" height="5" fill="#c0c0c0"/>
<rect x="1036" y="645" width="1" height="9" fill="#c0c0c0"/>
<rect x="1044" y="645" width="1" height="21" fill="#c0c0c0"/>
<rect x="1052" y="645" width="1" height="27" fill="#c0c0c0"/>
<rect x="1060" y="645" width="1" height="30" fill="#c0c0c0"/>
<rect x="1068" y="645" width="1" height="37" fill="#c0c0c0"/>
<rect x="1076" y="645" width="1" height="37" fill="#c0c0c0"/>
<rect x="1084" y="645" width="1" height="42" fill="#c0c0c0"/>
<rect x="1092" y="645" width="1" height="42" fill="#c0c0c0"/>
<rect x="1100" y="645" width="1" height="39" fill="#c0c0c0"/>
<rect x="1108" y="645" width="1" height="42" fill="#c0c0c0"/>
<rect x="1116" y="645" width="1" height="36" fill="#c0c0c0"/>
<rect x="1124" y="645" width="1" height="28" fill="#c0c0c0"/>
<rect x="1132" y="645" width="1" height="18" fill="#c0c0c0"/>
<rect x="1140" y="645" width="1" height="10" fill="#c0c0c0"/>
<rect x="1148" y="645" width="1" height="4" fill="#c0c0c0"/>
<rect x="1156" y="644" width="1" height="2" fill="#c0c0c0"/>
<rect x="1164" y="639" width="1" height="7" fill="#c0c0c0"/>
<rect x="1172" y="640" width="1" height="6" fill="#c0c0c0"/>
<rect x="1180" y="639" width="1" height="7" fill="#c0c0c0"/>
<rect x="1188" y="634" width="1" height="12" fill="#c0c0c0"/>
<rect x="1196" y="632" width="1" height="14" fill="#c0c0c0"/>
<rect x="1204" y="638" width="1" height="8" fill="#c0c0c0"/>
<rect x="1212" y="642" width="1" height="4" fill="#c0c0c0"/>
<rect x="1220" y="645" width="1" height="4" fill="#c0c0c0"/>
<rect x="1228" y="645" width="1" height="10" fill="#c0c0c0"/>
<rect x="1236" y="645" width="1" height="18" fill="#c0c0c0"/>
<rect x="1244" y="645" width="1" height="26" fill="#c0c0c0"/>
<rect x="1252" y="645" width="1" height="25" fill="#c0c0c0"/>
<rect x="1260" y="645" width="1" height="25" fill="#c0c0c0"/>
<rect x="1268" y="645" width="1" height="27" fill="#c0c0c0"/>
<rect x="1276" y="645" width="1" height="32" fill="#c0c0c0"/>
<rect x="1284" y="645" width="1" height="35" fill="#c0c0c0"/>
<rect x="1292" y="645" width="1" height="44" fill="#c0c0c0"/>
<rect x="1300" y="645" width="1" height="43" fill="#c0c0c0"/>
<rect x="1308" y="645" width="1" height="45" fill="#c0c0c0"/>
<rect x="1316" y="645" width="1" height="49" fill="#c0c0c0"/>
<rect x="1324" y="645" width="1" height="56" fill="#c0c0c0"/>
<rect x="1332" y="645" width="1" height="62" fill="#c0c0c0"/>
<rect x="1340" y="645" width="1" height="69" fill="#c0c0c0"/>
<rect x="1348" y="645" width="1" height="77" fill="#c0c0c0"/>
<rect x="1356" y="645" width="1" height="66" fill="#c0c0c0"/>
<rect x="1364" y="645" width="1" height="56" fill="#c0c0c0"/>
<rect x="1372" y="645" width="1" height="57" fill="#c0c0c0"/>
<rect x="1380" y="645" width="1" height="52" fill="#c0c0c0"/>
</g>
<polyline points="0.0,666.8 7.4,661.8 24.8,651.4 37.2,648.2 52.0,650.7 69.4,659.8 86.8,668.0 92.5,671.4 100.5,674.9 108.5,677.0 116.5,678.0 124.5,677.1 132.5,675.6 140.5,673.2 148.5,670.2 156.5,668.1 164.5,667.3 172.5,667.5 180.5,668.7 188.5,671.3 196.5,675.8 204.5,681.2 212.5,687.0 220.5,693.5 228.5,699.4 236.5,705.7 244.5,710.9 252.5,715.1 260.5,717.5 268.5,717.7 276.5,717.5 284.5,718.6 292.5,720.1 300.5,720.4 308.5,719.3 316.5,718.6 324.5,718.7 332.5,719.9 340.5,721.6 348.5,723.1 356.5,724.0 364.5,724.9 372.5,726.4 380.5,726.7 388.5,727.5 396.5,727.9 404.5,728.4 412.5,728.6 420.5,727.9 428.5,726.5 436.5,724.1 444.5,720.8 452.5,717.8 460.5,714.0 468.5,710.8 476.5,706.6 484.5,705.9 492.5,706.8 500.5,707.9 508.5,709.9 516.5,713.3 524.5,717.8 532.5,722.4 540.5,726.8 548.5,732.1 556.5,734.2 564.5,735.0 572.5,735.1 580.5,732.1 588.5,727.7 596.5,721.8 604.5,714.8 612.5,706.0 620.5,695.1 628.5,684.4 636.5,673.5 644.5,663.2 652.5,655.1 660.5,648.0 668.5,641.3 676.5,634.9 684.5,629.0 692.5,624.1 700.5,619.5 708.5,614.9 716.5,611.1 724.5,608.1 732.5,606.0 740.5,605.3 748.5,606.6 756.5,609.7 764.5,613.6 772.5,617.6 780.5,621.7 788.5,625.2 796.5,627.7 804.5,629.1 812.5,629.9 820.5,630.4 828.5,630.3 836.5,629.9 844.5,629.7 852.5,629.7 860.5,629.8 868.5,630.3 876.5,631.3 884.5,632.4 892.5,632.8 900.5,632.4 908.5,631.7 916.5,630.3 924.5,628.1 932.5,625.4 940.5,622.1 948.5,618.0 956.5,613.2 964.5,608.8 972.5,604.7 980.5,601.6 988.5,600.0 996.5,600.0 1004.5,601.6 1012.5,605.0 1020.5,609.8 1028.5,615.5 1036.5,622.4 1044.5,630.7 1052.5,639.2 1060.5,647.3 1068.5,655.0 1076.5,661.7 1084.5,668.0 1092.5,673.3 1100.5,678.1 1108.5,681.7 1116.5,683.3 1124.5,683.4 1132.5,682.1 1140.5,679.2 1148.5,675.5 1156.5,670.7 1164.5,665.4 1172.5,660.5 1180.5,655.2 1188.5,650.0 1196.5,645.5 1204.5,642.7 1212.5,641.2 1220.5,641.2 1228.5,642.5 1236.5,645.2 1244.5,648.6 1252.5,652.1 1260.5,656.1 1268.5,660.5 1276.5,664.8 1284.5,669.0 1292.5,673.4 1300.5,677.0 1308.5,680.0 1316.5,682.5 1324.5,685.9 1332.5,690.0 1340.5,694.7 1348.5,699.8 1356.5,703.3 1364.5,704.6 1372.5,706.2 1380.5,707.0" fill="none" stroke="#ff0000" stroke-width="1" shape-rendering="crispEdges" stroke-dasharray="3 3"/>
</g>
<g shape-rendering="crispEdges">
<line x1="1" y1="788.5" x2="1647" y2="788.5" stroke="#a8a8a8" stroke-width="1" stroke-dasharray="3 3"/>
<line x1="1" y1="839.5" x2="1647" y2="839.5" stroke="#a8a8a8" stroke-width="1" stroke-dasharray="3 3"/>
<line x1="1" y1="900.5" x2="1647" y2="900.5" stroke="#a8a8a8" stroke-width="1" stroke-dasharray="3 3"/>
</g>
<g clip-path="url(#crsi)">
<polyline points="-3.5,839.4 4.5,843.9 12.5,838.9 20.5,835.7 28.5,847.4 36.5,854.7 44.5,856.1 52.5,867.8 60.5,851.4 68.5,854.3 76.5,853.5 84.5,850.3 92.5,845.8 100.5,844.3 108.5,841.9 116.5,841.5 124.5,840.9 132.5,840.9 140.5,836.2 148.5,835.3 156.5,862.4 164.5,864.6 172.5,865.6 180.5,865.9 188.5,875.8 196.5,883.6 204.5,869.4 212.5,860.7 220.5,865.5 228.5,869.3 236.5,880.0 244.5,854.1 252.5,854.6 260.5,848.7 268.5,846.3 276.5,859.4 284.5,869.3 292.5,867.2 300.5,848.4 308.5,854.8 316.5,855.1 324.5,861.6 332.5,863.5 340.5,852.6 348.5,859.4 356.5,863.9 364.5,867.7 372.5,856.4 380.5,844.7 388.5,857.8 396.5,855.7 404.5,861.7 412.5,847.6 420.5,848.4 428.5,851.5 436.5,852.4 444.5,841.1 452.5,841.8 460.5,844.7 468.5,856.7 476.5,846.1 484.5,870.1 492.5,859.3 500.5,850.5 508.5,857.6 516.5,854.5 524.5,855.9 532.5,850.8 540.5,857.0 548.5,859.9 556.5,850.5 564.5,852.6 572.5,846.8 580.5,832.5 588.5,838.0 596.5,837.0 604.5,832.7 612.5,829.0 620.5,827.2 628.5,835.1 636.5,835.0 644.5,835.3 652.5,835.7 660.5,833.1 668.5,827.0 676.5,819.8 684.5,818.7 692.5,823.6 700.5,824.8 708.5,822.1 716.5,836.8 724.5,835.8 732.5,838.8 740.5,842.8 748.5,843.0 756.5,849.3 764.5,841.5 772.5,833.2 780.5,834.8 788.5,834.5 796.5,826.8 804.5,825.1 812.5,834.6 820.5,840.8 828.5,841.9 836.5,833.2 844.5,835.3 852.5,837.4 860.5,834.5 868.5,833.2 876.5,835.9 884.5,838.3 892.5,828.5 900.5,825.0 908.5,820.1 916.5,813.2 924.5,812.1 932.5,809.9 940.5,804.8 948.5,801.4 956.5,799.4 964.5,819.4 972.5,817.0 980.5,827.8 988.5,838.5 996.5,847.2 1004.5,851.0 1012.5,856.0 1020.5,855.5 1028.5,842.3 1036.5,865.3 1044.5,869.7 1052.5,858.1 1060.5,856.3 1068.5,863.3 1076.5,852.7 1084.5,861.3 1092.5,850.9 1100.5,847.7 1108.5,856.4 1116.5,840.9 1124.5,836.3 1132.5,830.9 1140.5,830.4 1148.5,831.4 1156.5,829.5 1164.5,829.8 1172.5,840.0 1180.5,835.9 1188.5,827.0 1196.5,832.5 1204.5,848.0 1212.5,845.5 1220.5,853.8 1228.5,854.3 1236.5,860.4 1244.5,863.3 1252.5,846.3 1260.5,847.4 1268.5,852.7 1276.5,858.8 1284.5,857.9 1292.5,868.7 1300.5,851.5 1308.5,855.8 1316.5,861.1 1324.5,866.8 1332.5,867.9 1340.5,872.7 1348.5,876.5 1356.5,841.8 1364.5,839.3 1372.5,854.3 1380.5,844.7" fill="none" stroke="#1e90ff" stroke-width="1" shape-rendering="crispEdges" />
</g>
<g shape-rendering="crispEdges">
<rect x="0" y="25" width="1648" height="1" fill="#000"/>
<rect x="0" y="578" width="1648" height="1" fill="#000"/>
<rect x="1647" y="25" width="1" height="554" fill="#000"/>
<rect x="0" y="580" width="1648" height="1" fill="#000"/>
<rect x="0" y="750" width="1648" height="1" fill="#000"/>
<rect x="1647" y="580" width="1" height="171" fill="#000"/>
<rect x="0" y="752" width="1648" height="1" fill="#000"/>
<rect x="0" y="926" width="1648" height="1" fill="#000"/>
<rect x="1647" y="752" width="1" height="175" fill="#000"/>
<rect x="1693" y="23" width="1" height="917" fill="#d4d4d4"/>
</g>
<g shape-rendering="crispEdges">
<rect x="1648" y="47" width="2" height="1" fill="#000"/>
<rect x="1648" y="80" width="2" height="1" fill="#000"/>
<rect x="1648" y="113" width="2" height="1" fill="#000"/>
<rect x="1648" y="146" width="2" height="1" fill="#000"/>
<rect x="1648" y="179" width="2" height="1" fill="#000"/>
<rect x="1648" y="212" width="2" height="1" fill="#000"/>
<rect x="1648" y="245" width="2" height="1" fill="#000"/>
<rect x="1648" y="278" width="2" height="1" fill="#000"/>
<rect x="1648" y="311" width="2" height="1" fill="#000"/>
<rect x="1648" y="344" width="2" height="1" fill="#000"/>
<rect x="1648" y="377" width="2" height="1" fill="#000"/>
<rect x="1648" y="443" width="2" height="1" fill="#000"/>
<rect x="1648" y="476" width="2" height="1" fill="#000"/>
<rect x="1648" y="509" width="2" height="1" fill="#000"/>
<rect x="1648" y="542" width="2" height="1" fill="#000"/>
<rect x="1648" y="575" width="2" height="1" fill="#000"/>
</g>
<text style="white-space:pre" x="1653.00" y="51.00" font-size="10" fill="#000" textLength="32.71" lengthAdjust="spacingAndGlyphs"  stroke="#000" stroke-width="0.12">28740.0</text>
<text style="white-space:pre" x="1653.00" y="84.00" font-size="10" fill="#000" textLength="32.71" lengthAdjust="spacingAndGlyphs"  stroke="#000" stroke-width="0.12">28565.0</text>
<text style="white-space:pre" x="1653.00" y="117.00" font-size="10" fill="#000" textLength="32.71" lengthAdjust="spacingAndGlyphs"  stroke="#000" stroke-width="0.12">28390.0</text>
<text style="white-space:pre" x="1653.00" y="150.00" font-size="10" fill="#000" textLength="32.71" lengthAdjust="spacingAndGlyphs"  stroke="#000" stroke-width="0.12">28220.0</text>
<text style="white-space:pre" x="1653.00" y="183.00" font-size="10" fill="#000" textLength="32.71" lengthAdjust="spacingAndGlyphs"  stroke="#000" stroke-width="0.12">28045.0</text>
<text style="white-space:pre" x="1653.00" y="216.00" font-size="10" fill="#000" textLength="32.71" lengthAdjust="spacingAndGlyphs"  stroke="#000" stroke-width="0.12">27870.0</text>
<text style="white-space:pre" x="1653.00" y="249.00" font-size="10" fill="#000" textLength="32.71" lengthAdjust="spacingAndGlyphs"  stroke="#000" stroke-width="0.12">27695.0</text>
<text style="white-space:pre" x="1653.00" y="282.00" font-size="10" fill="#000" textLength="32.71" lengthAdjust="spacingAndGlyphs"  stroke="#000" stroke-width="0.12">27525.0</text>
<text style="white-space:pre" x="1653.00" y="315.00" font-size="10" fill="#000" textLength="32.71" lengthAdjust="spacingAndGlyphs"  stroke="#000" stroke-width="0.12">27350.0</text>
<text style="white-space:pre" x="1653.00" y="348.00" font-size="10" fill="#000" textLength="32.71" lengthAdjust="spacingAndGlyphs"  stroke="#000" stroke-width="0.12">27175.0</text>
<text style="white-space:pre" x="1653.00" y="381.00" font-size="10" fill="#000" textLength="32.71" lengthAdjust="spacingAndGlyphs"  stroke="#000" stroke-width="0.12">27000.0</text>
<text style="white-space:pre" x="1653.00" y="447.00" font-size="10" fill="#000" textLength="32.71" lengthAdjust="spacingAndGlyphs"  stroke="#000" stroke-width="0.12">26655.0</text>
<text style="white-space:pre" x="1653.00" y="480.00" font-size="10" fill="#000" textLength="32.71" lengthAdjust="spacingAndGlyphs"  stroke="#000" stroke-width="0.12">26480.0</text>
<text style="white-space:pre" x="1653.00" y="513.00" font-size="10" fill="#000" textLength="32.71" lengthAdjust="spacingAndGlyphs"  stroke="#000" stroke-width="0.12">26305.0</text>
<text style="white-space:pre" x="1653.00" y="546.00" font-size="10" fill="#000" textLength="32.71" lengthAdjust="spacingAndGlyphs"  stroke="#000" stroke-width="0.12">26130.0</text>
<text style="white-space:pre" x="1653.00" y="579.00" font-size="10" fill="#000" textLength="32.71" lengthAdjust="spacingAndGlyphs"  stroke="#000" stroke-width="0.12">25960.0</text>
<rect x="1649" y="351" width="41" height="11" fill="#ff0000" shape-rendering="crispEdges"/>
<text style="white-space:pre" x="1653.00" y="361.00" font-size="10" fill="#fff" textLength="32.71" lengthAdjust="spacingAndGlyphs"  stroke="#fff" stroke-width="0.12">27107.3</text>
<rect x="1642.5" y="354.5" width="4" height="5" fill="#fff" stroke="#ff0000" stroke-width="1"/>
<rect x="1649" y="378" width="41" height="11" fill="#ff0000" shape-rendering="crispEdges"/>
<text style="white-space:pre" x="1653.00" y="388.00" font-size="10" fill="#fff" textLength="32.71" lengthAdjust="spacingAndGlyphs"  stroke="#fff" stroke-width="0.12">26965.3</text>
<rect x="1642.5" y="381.5" width="4" height="5" fill="#fff" stroke="#ff0000" stroke-width="1"/>
<rect x="1649" y="405" width="41" height="11" fill="#32cd32" shape-rendering="crispEdges"/>
<text style="white-space:pre" x="1653.00" y="415.00" font-size="10" fill="#fff" textLength="32.71" lengthAdjust="spacingAndGlyphs"  stroke="#fff" stroke-width="0.12">26823.3</text>
<rect x="1642.5" y="408.5" width="4" height="5" fill="#fff" stroke="#32cd32" stroke-width="1"/>
<rect x="1649" y="423" width="41" height="11" fill="#000000" shape-rendering="crispEdges"/>
<text style="white-space:pre" x="1653.00" y="433.00" font-size="10" fill="#fff" textLength="32.71" lengthAdjust="spacingAndGlyphs"  stroke="#fff" stroke-width="0.12">26727.5</text>
<rect x="1649" y="455" width="41" height="11" fill="#0000ff" shape-rendering="crispEdges"/>
<text style="white-space:pre" x="1653.00" y="465.00" font-size="10" fill="#fff" textLength="32.71" lengthAdjust="spacingAndGlyphs"  stroke="#fff" stroke-width="0.12">26560.3</text>
<rect x="1642.5" y="458.5" width="4" height="5" fill="#fff" stroke="#0000ff" stroke-width="1"/>
<rect x="1649" y="485" width="41" height="11" fill="#0000ff" shape-rendering="crispEdges"/>
<text style="white-space:pre" x="1653.00" y="495.00" font-size="10" fill="#fff" textLength="32.71" lengthAdjust="spacingAndGlyphs"  stroke="#fff" stroke-width="0.12">26402.5</text>
<rect x="1642.5" y="488.5" width="4" height="5" fill="#fff" stroke="#0000ff" stroke-width="1"/>
<rect x="1648" y="582" width="2" height="1" fill="#000" shape-rendering="crispEdges"/>
<rect x="1648" y="645" width="2" height="1" fill="#000" shape-rendering="crispEdges"/>
<rect x="1648" y="749" width="2" height="1" fill="#000" shape-rendering="crispEdges"/>
<rect x="1648" y="754" width="2" height="1" fill="#000" shape-rendering="crispEdges"/>
<text style="white-space:pre" x="1652.00" y="591.00" font-size="10" fill="#000" textLength="27.68" lengthAdjust="spacingAndGlyphs"  stroke="#000" stroke-width="0.12">164.44</text>
<text style="white-space:pre" x="1652.00" y="650.00" font-size="10" fill="#000" textLength="17.61" lengthAdjust="spacingAndGlyphs"  stroke="#000" stroke-width="0.12">0.00</text>
<text style="white-space:pre" x="1651.00" y="747.00" font-size="10" fill="#000" textLength="30.69" lengthAdjust="spacingAndGlyphs"  stroke="#000" stroke-width="0.12">-270.67</text>
<text style="white-space:pre" x="1652.00" y="763.00" font-size="10" fill="#000" textLength="15.10" lengthAdjust="spacingAndGlyphs"  stroke="#000" stroke-width="0.12">100</text>
<text style="white-space:pre" x="1652.00" y="792.50" font-size="10" fill="#000" textLength="10.07" lengthAdjust="spacingAndGlyphs"  stroke="#000" stroke-width="0.12">80</text>
<text style="white-space:pre" x="1652.00" y="843.50" font-size="10" fill="#000" textLength="10.07" lengthAdjust="spacingAndGlyphs"  stroke="#000" stroke-width="0.12">50</text>
<text style="white-space:pre" x="1652.00" y="904.50" font-size="10" fill="#000" textLength="10.07" lengthAdjust="spacingAndGlyphs"  stroke="#000" stroke-width="0.12">15</text>
<text style="white-space:pre" x="1652.00" y="923.50" font-size="10" fill="#000" textLength="5.03" lengthAdjust="spacingAndGlyphs"  stroke="#000" stroke-width="0.12">0</text>
<rect x="1648" y="788" width="2" height="1" fill="#000" shape-rendering="crispEdges"/>
<rect x="1648" y="839" width="2" height="1" fill="#000" shape-rendering="crispEdges"/>
<rect x="1648" y="900" width="2" height="1" fill="#000" shape-rendering="crispEdges"/>
<g shape-rendering="crispEdges">
<rect x="52" y="927" width="1" height="4" fill="#000"/>
<rect x="116" y="927" width="1" height="4" fill="#000"/>
<rect x="180" y="927" width="1" height="4" fill="#000"/>
<rect x="244" y="927" width="1" height="4" fill="#000"/>
<rect x="308" y="927" width="1" height="4" fill="#000"/>
<rect x="372" y="927" width="1" height="4" fill="#000"/>
<rect x="436" y="927" width="1" height="4" fill="#000"/>
<rect x="500" y="927" width="1" height="4" fill="#000"/>
<rect x="564" y="927" width="1" height="4" fill="#000"/>
<rect x="628" y="927" width="1" height="4" fill="#000"/>
<rect x="692" y="927" width="1" height="4" fill="#000"/>
<rect x="756" y="927" width="1" height="4" fill="#000"/>
<rect x="820" y="927" width="1" height="4" fill="#000"/>
<rect x="884" y="927" width="1" height="4" fill="#000"/>
<rect x="948" y="927" width="1" height="4" fill="#000"/>
<rect x="1012" y="927" width="1" height="4" fill="#000"/>
<rect x="1076" y="927" width="1" height="4" fill="#000"/>
<rect x="1140" y="927" width="1" height="4" fill="#000"/>
<rect x="1204" y="927" width="1" height="4" fill="#000"/>
<rect x="1268" y="927" width="1" height="4" fill="#000"/>
<rect x="1332" y="927" width="1" height="4" fill="#000"/>
</g>
<text style="white-space:pre" x="51.70" y="939.00" font-size="10" fill="#000" textLength="52.33" lengthAdjust="spacingAndGlyphs"  stroke="#000" stroke-width="0.12">14 Jan 00:00</text>
<text style="white-space:pre" x="115.70" y="939.00" font-size="10" fill="#000" textLength="52.33" lengthAdjust="spacingAndGlyphs"  stroke="#000" stroke-width="0.12">17 Jan 10:55</text>
<text style="white-space:pre" x="179.70" y="939.00" font-size="10" fill="#000" textLength="52.33" lengthAdjust="spacingAndGlyphs"  stroke="#000" stroke-width="0.12">18 Jan 18:55</text>
<text style="white-space:pre" x="243.70" y="939.00" font-size="10" fill="#000" textLength="52.33" lengthAdjust="spacingAndGlyphs"  stroke="#000" stroke-width="0.12">20 Jan 00:00</text>
<text style="white-space:pre" x="307.70" y="939.00" font-size="10" fill="#000" textLength="52.33" lengthAdjust="spacingAndGlyphs"  stroke="#000" stroke-width="0.12">21 Jan 10:55</text>
<text style="white-space:pre" x="371.70" y="939.00" font-size="10" fill="#000" textLength="52.33" lengthAdjust="spacingAndGlyphs"  stroke="#000" stroke-width="0.12">24 Jan 18:55</text>
<text style="white-space:pre" x="435.70" y="939.00" font-size="10" fill="#000" textLength="52.33" lengthAdjust="spacingAndGlyphs"  stroke="#000" stroke-width="0.12">26 Jan 00:00</text>
<text style="white-space:pre" x="499.70" y="939.00" font-size="10" fill="#000" textLength="52.33" lengthAdjust="spacingAndGlyphs"  stroke="#000" stroke-width="0.12">27 Jan 10:55</text>
<text style="white-space:pre" x="563.70" y="939.00" font-size="10" fill="#000" textLength="52.33" lengthAdjust="spacingAndGlyphs"  stroke="#000" stroke-width="0.12">28 Jan 18:55</text>
<text style="white-space:pre" x="627.70" y="939.00" font-size="10" fill="#000" textLength="48.30" lengthAdjust="spacingAndGlyphs"  stroke="#000" stroke-width="0.12">1 Feb 00:00</text>
<text style="white-space:pre" x="691.70" y="939.00" font-size="10" fill="#000" textLength="48.30" lengthAdjust="spacingAndGlyphs"  stroke="#000" stroke-width="0.12">2 Feb 10:55</text>
<text style="white-space:pre" x="755.70" y="939.00" font-size="10" fill="#000" textLength="48.30" lengthAdjust="spacingAndGlyphs"  stroke="#000" stroke-width="0.12">3 Feb 18:55</text>
<text style="white-space:pre" x="819.70" y="939.00" font-size="10" fill="#000" textLength="48.30" lengthAdjust="spacingAndGlyphs"  stroke="#000" stroke-width="0.12">7 Feb 00:00</text>
<text style="white-space:pre" x="883.70" y="939.00" font-size="10" fill="#000" textLength="48.30" lengthAdjust="spacingAndGlyphs"  stroke="#000" stroke-width="0.12">8 Feb 10:55</text>
<text style="white-space:pre" x="947.70" y="939.00" font-size="10" fill="#000" textLength="48.30" lengthAdjust="spacingAndGlyphs"  stroke="#000" stroke-width="0.12">9 Feb 18:55</text>
<text style="white-space:pre" x="1011.70" y="939.00" font-size="10" fill="#000" textLength="52.66" lengthAdjust="spacingAndGlyphs"  stroke="#000" stroke-width="0.12">11 Feb 00:00</text>
<text style="white-space:pre" x="1075.70" y="939.00" font-size="10" fill="#000" textLength="53.33" lengthAdjust="spacingAndGlyphs"  stroke="#000" stroke-width="0.12">14 Feb 10:55</text>
<text style="white-space:pre" x="1139.70" y="939.00" font-size="10" fill="#000" textLength="53.33" lengthAdjust="spacingAndGlyphs"  stroke="#000" stroke-width="0.12">15 Feb 18:55</text>
<text style="white-space:pre" x="1203.70" y="939.00" font-size="10" fill="#000" textLength="53.33" lengthAdjust="spacingAndGlyphs"  stroke="#000" stroke-width="0.12">17 Feb 00:00</text>
<text style="white-space:pre" x="1267.70" y="939.00" font-size="10" fill="#000" textLength="53.33" lengthAdjust="spacingAndGlyphs"  stroke="#000" stroke-width="0.12">18 Feb 10:55</text>
<text style="white-space:pre" x="1331.70" y="939.00" font-size="10" fill="#000" textLength="53.33" lengthAdjust="spacingAndGlyphs"  stroke="#000" stroke-width="0.12">21 Feb 18:55</text>
<text style="white-space:pre" x="-13.11" y="939.00" font-size="10" fill="#000" textLength="49.81" lengthAdjust="spacingAndGlyphs"  stroke="#000" stroke-width="0.12">13 Jan 2022</text>
<text style="white-space:pre" x="3.00" y="37.00" font-size="10" fill="#000" textLength="196.50" lengthAdjust="spacingAndGlyphs"  stroke="#000" stroke-width="0.12">JPN225-,H4  26522.5 26832.5 26487.5 26727.5</text>
<text style="white-space:pre" x="-8.30" y="593.00" font-size="10" fill="#000" textLength="134.30" lengthAdjust="spacingAndGlyphs"  stroke="#000" stroke-width="0.12">MACD(12,26,9) -137.02 -160.10</text>
<text style="white-space:pre" x="-6.90" y="765.00" font-size="10" fill="#000" textLength="66.40" lengthAdjust="spacingAndGlyphs"  stroke="#000" stroke-width="0.12">RSI(14) 47.3433</text>
<polygon points="1391.5,26 1401.5,26 1396.5,31.2" fill="#c0c0c0"/>
<rect x="1310" y="406" width="116" height="9" fill="#00ff00" shape-rendering="crispEdges"/>
<rect x="1093.5" y="267.5" width="61" height="18" fill="#fff" stroke="#ff0000" stroke-width="1" shape-rendering="crispEdges"/>
<text style="white-space:pre" x="1095.60" y="282.50" font-size="17" fill="#ff0000" textLength="57.40" lengthAdjust="spacingAndGlyphs" >27532.3</text>
<rect x="1155" y="276" width="9" height="1" fill="#ff0000" shape-rendering="crispEdges"/>
<rect x="1045.5" y="427.5" width="61" height="18" fill="#fff" stroke="#ff0000" stroke-width="1" shape-rendering="crispEdges"/>
<text style="white-space:pre" x="1047.60" y="442.50" font-size="17" fill="#ff0000" textLength="57.40" lengthAdjust="spacingAndGlyphs" >26691.4</text>
<rect x="1107" y="436" width="9" height="1" fill="#ff0000" shape-rendering="crispEdges"/>
<rect x="1173.5" y="402.5" width="61" height="18" fill="#fff" stroke="#ff0000" stroke-width="1" shape-rendering="crispEdges"/>
<text style="white-space:pre" x="1175.60" y="417.50" font-size="17" fill="#ff0000" textLength="57.40" lengthAdjust="spacingAndGlyphs" >26823.3</text>
<rect x="1235" y="411" width="9" height="1" fill="#ff0000" shape-rendering="crispEdges"/>
<rect x="1235.5" y="409.5" width="2" height="3" fill="#fff" stroke="#ff0000" stroke-width="1" shape-rendering="crispEdges"/>
<rect x="1277.5" y="518.5" width="61" height="18" fill="#fff" stroke="#ff0000" stroke-width="1" shape-rendering="crispEdges"/>
<text style="white-space:pre" x="1279.60" y="533.50" font-size="17" fill="#ff0000" textLength="57.40" lengthAdjust="spacingAndGlyphs" >26213.2</text>
<rect x="1339" y="527" width="9" height="1" fill="#ff0000" shape-rendering="crispEdges"/>
<rect x="1339.5" y="525.5" width="2" height="3" fill="#fff" stroke="#ff0000" stroke-width="1" shape-rendering="crispEdges"/>
<line x1="1190.5" y1="300.5" x2="1346.2" y2="525.0" stroke="#ff0000" stroke-width="3"/>
<polygon points="1352.5,534 1342.0,527.9 1350.5,522.0" fill="#ff0000"/>
<line x1="1351.5" y1="530" x2="1368.1" y2="404.4" stroke="#ff0000" stroke-width="3"/>
<polygon points="1369.5,393.5 1373.2,405.1 1362.9,403.7" fill="#ff0000"/>
<line x1="1370" y1="395" x2="1389.4" y2="473.8" stroke="#ff0000" stroke-width="3"/>
<polygon points="1392,484.5 1384.3,475.1 1394.4,472.6" fill="#ff0000"/>
<line x1="1336" y1="713.5" x2="1373.9" y2="703.1" stroke="#ff0000" stroke-width="3"/>
<polygon points="1383.5,700.5 1375.0,707.5 1372.7,698.8" fill="#ff0000"/>
<line x1="1345" y1="845.5" x2="1381.5" y2="846.3" stroke="#ff0000" stroke-width="3"/>
<polygon points="1393.5,846.5 1381.4,850.8 1381.6,841.8" fill="#ff0000"/>
<defs><linearGradient id="gbtn" x1="0" y1="0" x2="0" y2="1"><stop offset="0" stop-color="#fb5454"/><stop offset="1" stop-color="#da2c2c"/></linearGradient><linearGradient id="gpr" x1="0" y1="0" x2="0" y2="1"><stop offset="0" stop-color="#da2a2a"/><stop offset="1" stop-color="#b20202"/></linearGradient><linearGradient id="gspin" x1="0" y1="0" x2="0" y2="1"><stop offset="0" stop-color="#f2f2f2"/><stop offset="0.36" stop-color="#e8e8e8"/><stop offset="0.37" stop-color="#dadada"/><stop offset="1" stop-color="#d2d2d2"/></linearGradient></defs>
<g shape-rendering="crispEdges">
<rect x="0" y="43" width="212" height="61" fill="#fff"/>
<rect x="0" y="45" width="43" height="25" fill="#b40000"/>
<rect x="0" y="46" width="42" height="23" fill="url(#gbtn)"/>
<rect x="0" y="68" width="39" height="1" fill="#7a0000"/>
<rect x="0" y="69" width="39" height="1" fill="#f26262"/>
<rect x="158" y="45" width="52" height="25" fill="#b40000"/>
<rect x="159" y="46" width="50" height="23" fill="url(#gbtn)"/>
<rect x="162" y="68" width="44" height="1" fill="#7a0000"/>
<rect x="162" y="69" width="44" height="1" fill="#f26262"/>
<rect x="0" y="69" width="100" height="33" fill="#b40000"/>
<rect x="0" y="70" width="99" height="31" fill="url(#gpr)"/>
<rect x="0" y="68" width="39" height="1" fill="#7a0000"/>
<rect x="0" y="69" width="39" height="1" fill="#f26262"/>
<rect x="0" y="70" width="42" height="0" fill="#e03a3a"/>
<rect x="102" y="69" width="108" height="33" fill="#b40000"/>
<rect x="103" y="70" width="106" height="31" fill="url(#gpr)"/>
<rect x="162" y="68" width="44" height="1" fill="#7a0000"/>
<rect x="162" y="69" width="44" height="1" fill="#f26262"/>
<rect x="0" y="69" width="42" height="1" fill="#dc2e2e"/>
<rect x="0" y="68" width="39" height="1" fill="#7a0000"/>
<rect x="159" y="69" width="50" height="1" fill="#dc2e2e"/>
<rect x="162" y="68" width="44" height="1" fill="#7a0000"/>
<rect x="0" y="69" width="39" height="1" fill="#f26262"/>
<rect x="162" y="69" width="44" height="1" fill="#f26262"/>
<rect x="45" y="45" width="111" height="22" fill="#a9adb5"/>
<rect x="46" y="46" width="109" height="20" fill="#fff"/>
<rect x="47" y="47" width="18" height="18" fill="url(#gspin)"/>
<rect x="66" y="46" width="1" height="20" fill="#a9adb5"/>
<rect x="134" y="46" width="1" height="20" fill="#a9adb5"/>
<rect x="136" y="47" width="18" height="18" fill="url(#gspin)"/>
</g>
<polygon points="53,54 58.5,54 55.75,57" fill="#4a64d2"/>
<polygon points="142,57 147.5,57 144.75,54" fill="#4a64d2"/>
<text style="white-space:pre" x="3.50" y="61.00" font-size="12.5" fill="#fff" textLength="25.20" lengthAdjust="spacingAndGlyphs" >SELL</text>
<text style="white-space:pre" x="171.80" y="61.00" font-size="12.5" fill="#fff" textLength="23.10" lengthAdjust="spacingAndGlyphs" >BUY</text>
<text style="white-space:pre" x="107.70" y="60.00" font-size="12.5" fill="#000" textLength="22.70" lengthAdjust="spacingAndGlyphs" >1.00</text>
<text style="white-space:pre" x="7.30" y="97.00" font-size="13" fill="#fff" textLength="34.20" lengthAdjust="spacingAndGlyphs" font-weight="bold" >26726</text>
<text style="white-space:pre" x="117.30" y="97.00" font-size="13" fill="#fff" textLength="34.40" lengthAdjust="spacingAndGlyphs" font-weight="bold" >26749</text>
<rect x="46.5" y="93" width="4" height="4" rx="1.2" fill="#fff"/>
<rect x="157.5" y="93" width="4" height="4" rx="1.2" fill="#fff"/>
<text style="white-space:pre" x="52.40" y="97.40" font-size="35" fill="#fff" textLength="17.00" lengthAdjust="spacingAndGlyphs" font-family="Liberation Serif" >0</text>
<text style="white-space:pre" x="163.30" y="97.40" font-size="35" fill="#fff" textLength="17.00" lengthAdjust="spacingAndGlyphs" font-family="Liberation Serif" >0</text>
<rect x="0" y="0" width="1694" height="20" fill="#f0f0f0"/>
<rect x="0" y="20" width="1694" height="1" fill="#ececec"/>
<rect x="0" y="21" width="1694" height="1" fill="#a4a4a4"/>
<rect x="0" y="22" width="1694" height="1" fill="#6e6e6e"/>
<g shape-rendering="crispEdges">
<rect x="8" y="1" width="1" height="18" fill="#a0a0a0"/>
<rect x="9" y="1" width="1" height="18" fill="#fafafa"/>
<rect x="297" y="1" width="1" height="18" fill="#a0a0a0"/>
<rect x="298" y="1" width="1" height="18" fill="#fafafa"/>
<rect x="335" y="1" width="1" height="18" fill="#a0a0a0"/>
<rect x="336" y="1" width="1" height="18" fill="#fafafa"/>
<rect x="392" y="1" width="1" height="18" fill="#a0a0a0"/>
<rect x="393" y="1" width="1" height="18" fill="#fafafa"/>
<rect x="482" y="1" width="1" height="18" fill="#a0a0a0"/>
<rect x="483" y="1" width="1" height="18" fill="#fafafa"/>
<rect x="487" y="1" width="1" height="18" fill="#a0a0a0"/>
<rect x="488" y="1" width="1" height="18" fill="#fafafa"/>
<rect x="515" y="1" width="1" height="18" fill="#a0a0a0"/>
<rect x="516" y="1" width="1" height="18" fill="#fafafa"/>
<rect x="544" y="1" width="1" height="18" fill="#a0a0a0"/>
<rect x="545" y="1" width="1" height="18" fill="#fafafa"/>
<rect x="665" y="1" width="1" height="18" fill="#a0a0a0"/>
<rect x="666" y="1" width="1" height="18" fill="#fafafa"/>
<rect x="675" y="1" width="1" height="18" fill="#a0a0a0"/>
<rect x="676" y="1" width="1" height="18" fill="#fafafa"/>
<rect x="732" y="1" width="1" height="18" fill="#a0a0a0"/>
<rect x="733" y="1" width="1" height="18" fill="#fafafa"/>
<rect x="971" y="1" width="1" height="18" fill="#a0a0a0"/>
<rect x="972" y="1" width="1" height="18" fill="#fafafa"/>
<rect x="1232" y="1" width="1" height="18" fill="#a0a0a0"/>
<rect x="1233" y="1" width="1" height="18" fill="#fafafa"/>
<rect x="301" y="1" width="3" height="1" fill="#9a9a9a"/>
<rect x="301" y="3" width="3" height="1" fill="#9a9a9a"/>
<rect x="301" y="5" width="3" height="1" fill="#9a9a9a"/>
<rect x="301" y="7" width="3" height="1" fill="#9a9a9a"/>
<rect x="301" y="9" width="3" height="1" fill="#9a9a9a"/>
<rect x="301" y="11" width="3" height="1" fill="#9a9a9a"/>
<rect x="301" y="13" width="3" height="1" fill="#9a9a9a"/>
<rect x="301" y="15" width="3" height="1" fill="#9a9a9a"/>
<rect x="301" y="17" width="3" height="1" fill="#9a9a9a"/>
<rect x="669" y="1" width="3" height="1" fill="#9a9a9a"/>
<rect x="669" y="3" width="3" height="1" fill="#9a9a9a"/>
<rect x="669" y="5" width="3" height="1" fill="#9a9a9a"/>
<rect x="669" y="7" width="3" height="1" fill="#9a9a9a"/>
<rect x="669" y="9" width="3" height="1" fill="#9a9a9a"/>
<rect x="669" y="11" width="3" height="1" fill="#9a9a9a"/>
<rect x="669" y="13" width="3" height="1" fill="#9a9a9a"/>
<rect x="669" y="15" width="3" height="1" fill="#9a9a9a"/>
<rect x="669" y="17" width="3" height="1" fill="#9a9a9a"/>
<rect x="975" y="1" width="3" height="1" fill="#9a9a9a"/>
<rect x="975" y="3" width="3" height="1" fill="#9a9a9a"/>
<rect x="975" y="5" width="3" height="1" fill="#9a9a9a"/>
<rect x="975" y="7" width="3" height="1" fill="#9a9a9a"/>
<rect x="975" y="9" width="3" height="1" fill="#9a9a9a"/>
<rect x="975" y="11" width="3" height="1" fill="#9a9a9a"/>
<rect x="975" y="13" width="3" height="1" fill="#9a9a9a"/>
<rect x="975" y="15" width="3" height="1" fill="#9a9a9a"/>
<rect x="975" y="17" width="3" height="1" fill="#9a9a9a"/>
<rect x="336" y="0" width="25" height="20" fill="#f8f8f8"/>
<rect x="488" y="0" width="24" height="20" fill="#f8f8f8"/>
<rect x="516" y="0" width="24" height="20" fill="#f8f8f8"/>
<rect x="676" y="0" width="24" height="20" fill="#f8f8f8"/>
<rect x="1121" y="0" width="26" height="20" fill="#f8f8f8"/>
</g>
<rect x="0" y="15" width="2" height="3" fill="#d8a040"/>
<path d="M18.5,1.5 h8 l3,3 v10.5 h-11 z" fill="#fff" stroke="#6a6a6a" stroke-width="1"/>
<rect x="20" y="3" width="3" height="1.5" fill="#9a9a9a"/><rect x="20" y="6" width="7" height="1" fill="#9a9a9a"/><rect x="20" y="8" width="6" height="1" fill="#9a9a9a"/><rect x="20" y="10" width="5" height="1" fill="#9a9a9a"/>
<path d="M25.5,7.5 h3 v3 h3 v3 h-3 v3 h-3 v-3 h-3 v-3 h3 z" fill="#2ad22a" stroke="#0d8a0d" stroke-width="1"/>
<text style="white-space:pre" x="37.70" y="12.00" font-size="13" fill="#000" textLength="64.30" lengthAdjust="spacingAndGlyphs" >New Order</text>
<path d="M114.5,11 L119.5,3 L128.5,8.2 L129.5,11 L124,16.5 L116,13 Z" fill="#f2c62a" stroke="#a86a10" stroke-width="1"/>
<path d="M116,12.5 L124,16 L129,10.5" fill="none" stroke="#e8b050" stroke-width="1"/>
<rect x="144" y="1.5" width="11" height="9" fill="#1a8ae8" stroke="#0c5cc0" stroke-width="1"/>
<rect x="148" y="5" width="6" height="2" fill="#fff"/>
<path d="M143,16.5 Q141,13 145,12 Q146,8.5 150,9.5 Q153,8 155,11 Q159,11.5 157.5,16.5 Z" fill="#eef0f8" stroke="#5a70a8" stroke-width="1"/>
<circle cx="178" cy="9.5" r="7.5" fill="none" stroke="#b8cde8" stroke-width="1.5"/>
<circle cx="178" cy="9.5" r="5" fill="none" stroke="#5a8ad8" stroke-width="1.2"/>
<circle cx="178" cy="9.5" r="2.2" fill="#1a5ad0"/>
<path d="M178,9.5 V17" stroke="#22b022" stroke-width="1.6"/>
<path d="M178,17 A7.5,7.5 0 0 0 185.5,9.5" fill="none" stroke="#6ac06a" stroke-width="1.5"/>
<path d="M198,8 L210,8 L211,12 L205,17 L199,14 Z" fill="#f5d84a" stroke="#c8a020" stroke-width="1"/>
<ellipse cx="204.5" cy="5.5" rx="7.5" ry="3" fill="#5aacdc" stroke="#2a7ab0" stroke-width="1"/>
<ellipse cx="204.5" cy="3.8" rx="3.5" ry="2.5" fill="#7cc4ec" stroke="#2a7ab0" stroke-width="0.8"/>
<circle cx="209.5" cy="12.8" r="4" fill="#e02818" stroke="#b01808" stroke-width="0.8"/>
<rect x="208" y="11.3" width="3" height="3" fill="#fff"/>
<text style="white-space:pre" x="218.30" y="11.70" font-size="13" fill="#000" textLength="71.00" lengthAdjust="spacingAndGlyphs" >AutoTrading</text>
<path d="M315.5,3 V17 M313,14.5 H326" stroke="#4a4a4a" stroke-width="1.2" fill="none"/>
<polygon points="315.5,2.5 313.5,5 317.5,5" fill="#4a4a4a"/>
<polygon points="327,14.5 324.5,12.5 324.5,16.5" fill="#4a4a4a"/>
<path d="M343.5,3 V17 M341,14.5 H354" stroke="#4a4a4a" stroke-width="1.2" fill="none"/>
<polygon points="343.5,2.5 341.5,5 345.5,5" fill="#4a4a4a"/>
<polygon points="355,14.5 352.5,12.5 352.5,16.5" fill="#4a4a4a"/>
<path d="M371.5,3 V17 M369,14.5 H382" stroke="#4a4a4a" stroke-width="1.2" fill="none"/>
<polygon points="371.5,2.5 369.5,5 373.5,5" fill="#4a4a4a"/>
<polygon points="383,14.5 380.5,12.5 380.5,16.5" fill="#4a4a4a"/>
<path d="M495.5,3 V17 M493,14.5 H506" stroke="#4a4a4a" stroke-width="1.2" fill="none"/>
<polygon points="495.5,2.5 493.5,5 497.5,5" fill="#4a4a4a"/>
<polygon points="507,14.5 504.5,12.5 504.5,16.5" fill="#4a4a4a"/>
<path d="M523.5,3 V17 M521,14.5 H534" stroke="#4a4a4a" stroke-width="1.2" fill="none"/>
<polygon points="523.5,2.5 521.5,5 525.5,5" fill="#4a4a4a"/>
<polygon points="535,14.5 532.5,12.5 532.5,16.5" fill="#4a4a4a"/>
<path d="M319,11.5 H321.5 V4.5 H324" stroke="#1a9a1a" stroke-width="1.3" fill="none"/>
<rect x="347.5" y="3.5" width="4" height="7" fill="#30d030" stroke="#108a10" stroke-width="1"/><path d="M349.5,1 V3.5 M349.5,10.5 V12.5" stroke="#108a10" stroke-width="1"/>
<path d="M370,11.5 Q375,4 377.5,6 Q380,8 382.5,10" stroke="#2a9a2a" stroke-width="1.2" fill="none"/>
<polygon points="500,5 500,12 504.5,8.5" fill="#fff" stroke="#1aa01a" stroke-width="1.2"/>
<path d="M529.5,3 V12.5" stroke="#1a70c0" stroke-width="1.2"/><polygon points="530.5,8.5 533.5,6.5 533.5,10.5" fill="#e05010"/><path d="M532,8.5 H535" stroke="#e05010" stroke-width="1.2"/>
<path d="M410.3,10.5 L415.8,15.8" stroke="#c89a10" stroke-width="2.6"/>
<path d="M410.3,10.5 L415.8,15.8" stroke="#f4d850" stroke-width="1.2"/>
<circle cx="406.8" cy="6.8" r="5.3" fill="#d8f0fc" stroke="#3a80d0" stroke-width="1"/>
<rect x="403.3" y="6" width="7" height="1.8" fill="#4a88b0"/>
<rect x="405.90000000000003" y="3.3" width="1.8" height="7" fill="#4a88b0"/>
<path d="M438.4,10.5 L443.9,15.8" stroke="#c89a10" stroke-width="2.6"/>
<path d="M438.4,10.5 L443.9,15.8" stroke="#f4d850" stroke-width="1.2"/>
<circle cx="434.9" cy="6.8" r="5.3" fill="#d8f0fc" stroke="#3a80d0" stroke-width="1"/>
<rect x="431.4" y="6" width="7" height="1.8" fill="#4a88b0"/>
<rect x="457" y="1.5" width="8" height="7.5" fill="#2aa02a"/>
<rect x="458" y="4.5" width="6" height="3.5" fill="#fff"/>
<rect x="465" y="1.5" width="8" height="7.5" fill="#1a5ad8"/>
<rect x="466" y="4.5" width="6" height="3.5" fill="#fff"/>
<rect x="457" y="9.5" width="8" height="7.5" fill="#1a5ad8"/>
<rect x="458" y="12.5" width="6" height="3.5" fill="#fff"/>
<rect x="465" y="9.5" width="8" height="7.5" fill="#2aa02a"/>
<rect x="466" y="12.5" width="6" height="3.5" fill="#fff"/>
<path d="M554.5,1.5 h8 l3,3 v10 h-11 z" fill="#fff" stroke="#6a6a6a" stroke-width="1"/>
<path d="M561.5,8.5 h3 v3 h3 v3 h-3 v3 h-3 v-3 h-3 v-3 h3 z" fill="#2ad22a" stroke="#0d8a0d" stroke-width="1"/>
<polygon points="576,8 581,8 578.5,10.8" fill="#000"/>
<polygon points="615,8 620,8 617.5,10.8" fill="#000"/>
<polygon points="654,8 659,8 656.5,10.8" fill="#000"/>
<polygon points="960,8 965,8 962.5,10.8" fill="#000"/>
<circle cx="600" cy="9" r="7.2" fill="#fff" stroke="#1468cc" stroke-width="2"/>
<path d="M599.5,4.5 V9.5 H602.5" stroke="#202020" stroke-width="1.2" fill="none"/>
<rect x="631.5" y="2.5" width="15" height="13" fill="#fff" stroke="#2a6ac0" stroke-width="1"/>
<rect x="632" y="3" width="14" height="2" fill="#5a9ae0"/><rect x="632" y="9" width="14" height="1" fill="#2a6ac0"/>
<path d="M633,8 L635,7.5 L637,6.5 L639,7.2 L641,6.2 L644.5,5.8" stroke="#b02010" stroke-width="1" fill="none"/>
<path d="M633,13.5 L635,12.8 L637,13.2 L639,12 L641,11 L644,13" stroke="#10a010" stroke-width="1" fill="none"/>
<path d="M683.3,2 L683.3,13 L685.8,10.8 L688,15.8 L690,15 L688,10.3 L691,10 Z" fill="#4a4a4a"/>
<path d="M715.5,2 V8 M715.5,11 V17 M708,9.5 H714 M717,9.5 H723" stroke="#4a4a4a" stroke-width="1.2"/>
<path d="M749.5,3 V16" stroke="#4a4a4a" stroke-width="1.2"/>
<path d="M772,9.5 H784" stroke="#4a4a4a" stroke-width="1.2"/>
<path d="M800,15.5 L812,4" stroke="#4a4a4a" stroke-width="1.2"/>
<path d="M826,11 L834,3 M828,15 L838,5 M831,15 L840,6" stroke="#4a4a4a" stroke-width="1"/>
<path d="M829,8 L831,12 M832,6 L834,10 M835,4 L836,8" stroke="#4a4a4a" stroke-width="1"/>
<text style="white-space:pre" x="836.50" y="17.50" font-size="6.5" fill="#333" textLength="4.00" lengthAdjust="spacingAndGlyphs" font-weight="bold" >E</text>
<g fill="#4a4a4a"><rect x="855" y="2" width="1" height="1"/><rect x="857" y="2" width="1" height="1"/><rect x="859" y="2" width="1" height="1"/><rect x="861" y="2" width="1" height="1"/><rect x="863" y="2" width="1" height="1"/><rect x="865" y="2" width="1" height="1"/><rect x="867" y="2" width="1" height="1"/><rect x="855" y="5" width="1" height="1"/><rect x="857" y="5" width="1" height="1"/><rect x="859" y="5" width="1" height="1"/><rect x="861" y="5" width="1" height="1"/><rect x="863" y="5" width="1" height="1"/><rect x="865" y="5" width="1" height="1"/><rect x="867" y="5" width="1" height="1"/><rect x="855" y="9" width="1" height="1"/><rect x="857" y="9" width="1" height="1"/><rect x="859" y="9" width="1" height="1"/><rect x="861" y="9" width="1" height="1"/><rect x="863" y="9" width="1" height="1"/><rect x="865" y="9" width="1" height="1"/><rect x="867" y="9" width="1" height="1"/><rect x="855" y="13" width="1" height="1"/><rect x="857" y="13" width="1" height="1"/><rect x="859" y="13" width="1" height="1"/><rect x="861" y="13" width="1" height="1"/><rect x="863" y="13" width="1" height="1"/></g>
<text style="white-space:pre" x="864.50" y="17.50" font-size="6.5" fill="#333" textLength="4.00" lengthAdjust="spacingAndGlyphs" font-weight="bold" >F</text>
<text style="white-space:pre" x="885.90" y="14.00" font-size="13" fill="#505050" textLength="7.50" lengthAdjust="spacingAndGlyphs" >A</text>
<g fill="#404040" shape-rendering="crispEdges"><rect x="912" y="3" width="1" height="1"/><rect x="912" y="15" width="1" height="1"/><rect x="914" y="3" width="1" height="1"/><rect x="914" y="15" width="1" height="1"/><rect x="916" y="3" width="1" height="1"/><rect x="916" y="15" width="1" height="1"/><rect x="918" y="3" width="1" height="1"/><rect x="918" y="15" width="1" height="1"/><rect x="920" y="3" width="1" height="1"/><rect x="920" y="15" width="1" height="1"/><rect x="922" y="3" width="1" height="1"/><rect x="922" y="15" width="1" height="1"/><rect x="924" y="3" width="1" height="1"/><rect x="924" y="15" width="1" height="1"/><rect x="912" y="3" width="1" height="1"/><rect x="924" y="3" width="1" height="1"/><rect x="912" y="5" width="1" height="1"/><rect x="924" y="5" width="1" height="1"/><rect x="912" y="7" width="1" height="1"/><rect x="924" y="7" width="1" height="1"/><rect x="912" y="9" width="1" height="1"/><rect x="924" y="9" width="1" height="1"/><rect x="912" y="11" width="1" height="1"/><rect x="924" y="11" width="1" height="1"/><rect x="912" y="13" width="1" height="1"/><rect x="924" y="13" width="1" height="1"/><rect x="912" y="15" width="1" height="1"/><rect x="924" y="15" width="1" height="1"/><rect x="911" y="2" width="2" height="1"/></g>
<path d="M914,6.5 H922 M918,6.5 V13.5" stroke="#505050" stroke-width="1.6" fill="none"/>
<polygon points="938.5,6.8 942.3,2.8 946.2,6.8" fill="#4a4a4a"/><path d="M941,10 L943,12.2 L947,7.5" stroke="#4a4a4a" stroke-width="1.3" fill="none"/><polygon points="945.8,12 953.2,12 949.5,16" fill="#4a4a4a"/>
<text style="white-space:pre" x="986.70" y="13.00" font-size="10" fill="#303030" textLength="12.40" lengthAdjust="spacingAndGlyphs"  stroke="#303030" stroke-width="0.12">M1</text>
<text style="white-space:pre" x="1014.70" y="13.00" font-size="10" fill="#303030" textLength="12.40" lengthAdjust="spacingAndGlyphs"  stroke="#303030" stroke-width="0.12">M5</text>
<text style="white-space:pre" x="1040.80" y="13.00" font-size="10" fill="#303030" textLength="17.50" lengthAdjust="spacingAndGlyphs"  stroke="#303030" stroke-width="0.12">M15</text>
<text style="white-space:pre" x="1068.90" y="13.00" font-size="10" fill="#303030" textLength="17.30" lengthAdjust="spacingAndGlyphs"  stroke="#303030" stroke-width="0.12">M30</text>
<text style="white-space:pre" x="1099.30" y="13.00" font-size="10" fill="#303030" textLength="11.90" lengthAdjust="spacingAndGlyphs"  stroke="#303030" stroke-width="0.12">H1</text>
<text style="white-space:pre" x="1126.40" y="13.00" font-size="10" fill="#303030" textLength="12.60" lengthAdjust="spacingAndGlyphs"  stroke="#303030" stroke-width="0.12">H4</text>
<text style="white-space:pre" x="1155.50" y="13.00" font-size="10" fill="#303030" textLength="11.60" lengthAdjust="spacingAndGlyphs"  stroke="#303030" stroke-width="0.12">D1</text>
<text style="white-space:pre" x="1183.10" y="13.00" font-size="10" fill="#303030" textLength="14.40" lengthAdjust="spacingAndGlyphs"  stroke="#303030" stroke-width="0.12">W1</text>
<text style="white-space:pre" x="1209.60" y="13.00" font-size="10" fill="#303030" textLength="14.90" lengthAdjust="spacingAndGlyphs"  stroke="#303030" stroke-width="0.12">MN</text>
<circle cx="1649.5" cy="6.4" r="4" fill="#fff" stroke="#2a60d0" stroke-width="1.3"/>
<path d="M1646.5,9.5 L1642.5,13.5" stroke="#2a60d0" stroke-width="2.2"/>
<ellipse cx="1671.5" cy="11" rx="5.5" ry="4.5" fill="#e4e6ee" stroke="#a0a0a0" stroke-width="0.8"/>
<path d="M1669,14.5 L1669,17.5 L1672,15" fill="#b0b0b0"/>
<circle cx="1680.4" cy="6.4" r="8.2" fill="#dc3018"/>
<text style="white-space:pre" x="1677.00" y="11.00" font-size="12" fill="#fff" textLength="5.30" lengthAdjust="spacingAndGlyphs" font-family="Liberation Serif" >1</text>
</svg></body></html>
